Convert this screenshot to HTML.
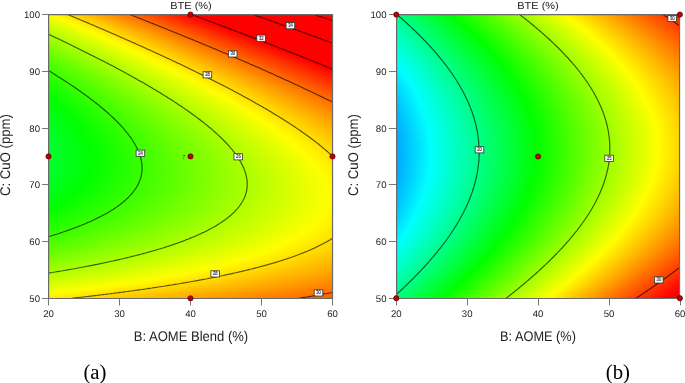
<!DOCTYPE html><html><head><meta charset="utf-8"><style>*{margin:0;padding:0}
html,body{width:685px;height:383px;background:#fff;overflow:hidden;position:relative}
.f{position:absolute}
.f i{display:block;height:1px}
.t{position:absolute;font-family:"Liberation Sans",sans-serif;color:#222;white-space:nowrap;line-height:1;text-rendering:geometricPrecision}
.s{position:absolute;font-family:"Liberation Serif",serif;color:#000;white-space:nowrap;line-height:1}
svg{position:absolute;left:0;top:0}
</style></head><body>
<div class="f" style="left:49px;top:15px;width:283px;height:283px">
<i style="background:linear-gradient(90deg,#f9ff00 0.5px,#fffe00 4.5px,#ff0000 142.5px,#ff0000 282.5px)"></i>
<i style="background:linear-gradient(90deg,#f4ff00 0.5px,#ffff00 6.5px,#ff0000 145.5px,#ff0000 282.5px)"></i>
<i style="background:linear-gradient(90deg,#f0ff00 0.5px,#fffd00 9.5px,#ff0000 147.5px,#ff0000 282.5px)"></i>
<i style="background:linear-gradient(90deg,#ecff00 0.5px,#fffe00 11.5px,#ff0000 150.5px,#ff0000 282.5px)"></i>
<i style="background:linear-gradient(90deg,#e8ff00 0.5px,#ffff00 13.5px,#ff0000 153.5px,#ff0000 282.5px)"></i>
<i style="background:linear-gradient(90deg,#e4ff00 0.5px,#fffd00 16.5px,#ff0000 155.5px,#ff0000 282.5px)"></i>
<i style="background:linear-gradient(90deg,#e0ff00 0.5px,#fffe00 18.5px,#ff0000 158.5px,#ff0000 282.5px)"></i>
<i style="background:linear-gradient(90deg,#dbff00 0.5px,#ffff00 20.5px,#ff0000 161.5px,#ff0000 282.5px)"></i>
<i style="background:linear-gradient(90deg,#d7ff00 0.5px,#ffff00 22.5px,#ff0000 163.5px,#ff0000 282.5px)"></i>
<i style="background:linear-gradient(90deg,#d3ff00 0.5px,#fffe00 25.5px,#ff0000 166.5px,#ff0000 282.5px)"></i>
<i style="background:linear-gradient(90deg,#cfff00 0.5px,#fffe00 27.5px,#ff0000 169.5px,#ff0000 282.5px)"></i>
<i style="background:linear-gradient(90deg,#cbff00 0.5px,#ffff00 29.5px,#ff0000 171.5px,#ff0000 282.5px)"></i>
<i style="background:linear-gradient(90deg,#c7ff00 0.5px,#fffe00 32.5px,#ff0000 174.5px,#ff0000 282.5px)"></i>
<i style="background:linear-gradient(90deg,#c3ff00 0.5px,#fffe00 34.5px,#ff0000 177.5px,#ff0000 282.5px)"></i>
<i style="background:linear-gradient(90deg,#c0ff00 0.5px,#ffff00 36.5px,#ff0000 179.5px,#ff0000 282.5px)"></i>
<i style="background:linear-gradient(90deg,#bcff00 0.5px,#fffe00 39.5px,#ff0000 182.5px,#ff0000 282.5px)"></i>
<i style="background:linear-gradient(90deg,#b8ff00 0.5px,#fffe00 41.5px,#ff0000 185.5px,#ff0000 282.5px)"></i>
<i style="background:linear-gradient(90deg,#b4ff00 0.5px,#fffe00 43.5px,#ff0000 187.5px,#ff0000 282.5px)"></i>
<i style="background:linear-gradient(90deg,#b0ff00 0.5px,#ffff00 45.5px,#ff0000 190.5px,#ff0000 282.5px)"></i>
<i style="background:linear-gradient(90deg,#adff00 0.5px,#fffe00 48.5px,#ff0000 192.5px,#ff0000 282.5px)"></i>
<i style="background:linear-gradient(90deg,#a9ff00 0.5px,#fffe00 50.5px,#ff0000 195.5px,#ff0000 282.5px)"></i>
<i style="background:linear-gradient(90deg,#a5ff00 0.5px,#fffe00 52.5px,#ff0000 198.5px,#ff0000 282.5px)"></i>
<i style="background:linear-gradient(90deg,#a2ff00 0.5px,#ffff00 54.5px,#ff0000 200.5px,#ff0000 282.5px)"></i>
<i style="background:linear-gradient(90deg,#9eff00 0.5px,#fffe00 57.5px,#ff0000 203.5px,#ff0000 282.5px)"></i>
<i style="background:linear-gradient(90deg,#9bff00 0.5px,#fffe00 59.5px,#ff0000 205.5px,#ff0000 282.5px)"></i>
<i style="background:linear-gradient(90deg,#97ff00 0.5px,#fffe00 61.5px,#ff0000 208.5px,#ff0000 282.5px)"></i>
<i style="background:linear-gradient(90deg,#93ff00 0.5px,#ffff00 63.5px,#ff0000 211.5px,#ff0000 282.5px)"></i>
<i style="background:linear-gradient(90deg,#90ff00 0.5px,#ffff00 65.5px,#ff0000 213.5px,#ff0000 282.5px)"></i>
<i style="background:linear-gradient(90deg,#8dff00 0.5px,#fffe00 68.5px,#ff0000 216.5px,#ff0000 282.5px)"></i>
<i style="background:linear-gradient(90deg,#89ff00 0.5px,#fffe00 70.5px,#ff0000 218.5px,#ff0000 282.5px)"></i>
<i style="background:linear-gradient(90deg,#86ff00 0.5px,#fffe00 72.5px,#ff0000 221.5px,#ff0000 282.5px)"></i>
<i style="background:linear-gradient(90deg,#82ff00 0.5px,#ffff00 74.5px,#ff0000 223.5px,#ff0000 282.5px)"></i>
<i style="background:linear-gradient(90deg,#7fff00 0.5px,#ffff00 76.5px,#ff0000 226.5px,#ff0000 282.5px)"></i>
<i style="background:linear-gradient(90deg,#7cff00 0.5px,#fffe00 79.5px,#ff0000 228.5px,#ff0000 282.5px)"></i>
<i style="background:linear-gradient(90deg,#79ff00 0.5px,#fffe00 81.5px,#ff0000 231.5px,#ff0000 282.5px)"></i>
<i style="background:linear-gradient(90deg,#75ff00 0.5px,#fffe00 83.5px,#ff0000 234.5px,#ff0000 282.5px)"></i>
<i style="background:linear-gradient(90deg,#72ff00 0.5px,#fffe00 85.5px,#ff0000 236.5px,#ff0000 282.5px)"></i>
<i style="background:linear-gradient(90deg,#6fff00 0.5px,#ffff00 87.5px,#ff0000 239.5px,#ff0000 282.5px)"></i>
<i style="background:linear-gradient(90deg,#6cff00 0.5px,#ffff00 89.5px,#ff0000 241.5px,#ff0000 282.5px)"></i>
<i style="background:linear-gradient(90deg,#69ff00 0.5px,#ffff00 91.5px,#ff0000 244.5px,#ff0000 282.5px)"></i>
<i style="background:linear-gradient(90deg,#66ff00 0.5px,#ffff00 93.5px,#ff0000 246.5px,#ff0000 282.5px)"></i>
<i style="background:linear-gradient(90deg,#63ff00 0.5px,#fffe00 96.5px,#ff0000 249.5px,#ff0000 282.5px)"></i>
<i style="background:linear-gradient(90deg,#60ff00 0.5px,#fffe00 98.5px,#ff0000 251.5px,#ff0000 282.5px)"></i>
<i style="background:linear-gradient(90deg,#5dff00 0.5px,#fffe00 100.5px,#ff0000 254.5px,#ff0000 282.5px)"></i>
<i style="background:linear-gradient(90deg,#5aff00 0.5px,#fffe00 102.5px,#ff0000 256.5px,#ff0000 282.5px)"></i>
<i style="background:linear-gradient(90deg,#57ff00 0.5px,#fffe00 104.5px,#ff0000 259.5px,#ff0000 282.5px)"></i>
<i style="background:linear-gradient(90deg,#54ff00 0.5px,#fffe00 106.5px,#ff0000 261.5px,#ff0000 282.5px)"></i>
<i style="background:linear-gradient(90deg,#51ff00 0.5px,#ffff00 108.5px,#ff0000 264.5px,#ff0000 282.5px)"></i>
<i style="background:linear-gradient(90deg,#4eff00 0.5px,#ffff00 110.5px,#ff0000 266.5px,#ff0000 282.5px)"></i>
<i style="background:linear-gradient(90deg,#4bff00 0.5px,#ffff00 112.5px,#ff0000 269.5px,#ff0000 282.5px)"></i>
<i style="background:linear-gradient(90deg,#49ff00 0.5px,#ffff00 114.5px,#ff0000 271.5px,#ff0000 282.5px)"></i>
<i style="background:linear-gradient(90deg,#46ff00 0.5px,#ffff00 116.5px,#ff0000 274.5px,#ff0000 282.5px)"></i>
<i style="background:linear-gradient(90deg,#43ff00 0.5px,#ffff00 118.5px,#ff0000 276.5px,#ff0000 282.5px)"></i>
<i style="background:linear-gradient(90deg,#41ff00 0.5px,#ffff00 120.5px,#ff0000 278.5px,#ff0000 282.5px)"></i>
<i style="background:linear-gradient(90deg,#3eff00 0.5px,#ffff00 122.5px,#ff0000 281.5px,#ff0000 282.5px)"></i>
<i style="background:linear-gradient(90deg,#3bff00 0.5px,#ffff00 124.5px,#ff0100 282.5px)"></i>
<i style="background:linear-gradient(90deg,#39ff00 0.5px,#ffff00 126.5px,#ff0500 282.5px)"></i>
<i style="background:linear-gradient(90deg,#36ff00 0.5px,#ffff00 128.5px,#ff0900 282.5px)"></i>
<i style="background:linear-gradient(90deg,#34ff00 0.5px,#ffff00 130.5px,#ff0d00 282.5px)"></i>
<i style="background:linear-gradient(90deg,#31ff00 0.5px,#ffff00 132.5px,#ff1100 282.5px)"></i>
<i style="background:linear-gradient(90deg,#2fff00 0.5px,#ffff00 134.5px,#ff1500 282.5px)"></i>
<i style="background:linear-gradient(90deg,#2cff00 0.5px,#ffff00 136.5px,#ff1800 282.5px)"></i>
<i style="background:linear-gradient(90deg,#2aff00 0.5px,#ffff00 138.5px,#ff1c00 282.5px)"></i>
<i style="background:linear-gradient(90deg,#28ff00 0.5px,#ffff00 140.5px,#ff2000 282.5px)"></i>
<i style="background:linear-gradient(90deg,#25ff00 0.5px,#fffe00 142.5px,#ff2400 282.5px)"></i>
<i style="background:linear-gradient(90deg,#23ff00 0.5px,#fffe00 144.5px,#ff2700 282.5px)"></i>
<i style="background:linear-gradient(90deg,#21ff00 0.5px,#fffe00 146.5px,#ff2b00 282.5px)"></i>
<i style="background:linear-gradient(90deg,#1eff00 0.5px,#fffe00 148.5px,#ff2e00 282.5px)"></i>
<i style="background:linear-gradient(90deg,#1cff00 0.5px,#fffe00 150.5px,#ff3200 282.5px)"></i>
<i style="background:linear-gradient(90deg,#1aff00 0.5px,#fffe00 152.5px,#ff3600 282.5px)"></i>
<i style="background:linear-gradient(90deg,#18ff00 0.5px,#fffe00 154.5px,#ff3900 282.5px)"></i>
<i style="background:linear-gradient(90deg,#16ff00 0.5px,#ffff00 155.5px,#ff3c00 282.5px)"></i>
<i style="background:linear-gradient(90deg,#14ff00 0.5px,#ffff00 157.5px,#ff4000 282.5px)"></i>
<i style="background:linear-gradient(90deg,#12ff00 0.5px,#fffe00 159.5px,#ff4300 282.5px)"></i>
<i style="background:linear-gradient(90deg,#10ff00 0.5px,#fffe00 161.5px,#ff4700 282.5px)"></i>
<i style="background:linear-gradient(90deg,#0eff00 0.5px,#fffe00 163.5px,#ff4a00 282.5px)"></i>
<i style="background:linear-gradient(90deg,#0cff00 0.5px,#fffe00 165.5px,#ff4d00 282.5px)"></i>
<i style="background:linear-gradient(90deg,#0aff00 0.5px,#ffff00 166.5px,#ff5100 282.5px)"></i>
<i style="background:linear-gradient(90deg,#08ff00 0.5px,#ffff00 168.5px,#ff5400 282.5px)"></i>
<i style="background:linear-gradient(90deg,#06ff00 0.5px,#fffe00 170.5px,#ff5700 282.5px)"></i>
<i style="background:linear-gradient(90deg,#04ff00 0.5px,#fffe00 172.5px,#ff5a00 282.5px)"></i>
<i style="background:linear-gradient(90deg,#02ff00 0.5px,#fffe00 174.5px,#ff5d00 282.5px)"></i>
<i style="background:linear-gradient(90deg,#01ff00 0.5px,#ffff00 175.5px,#ff6000 282.5px)"></i>
<i style="background:linear-gradient(90deg,#00ff01 0.5px,#fffe00 177.5px,#ff6300 282.5px)"></i>
<i style="background:linear-gradient(90deg,#00ff03 0.5px,#03ff00 4.5px,#fffe00 179.5px,#ff6700 282.5px)"></i>
<i style="background:linear-gradient(90deg,#00ff04 0.5px,#01ff00 4.5px,#fffe00 181.5px,#ff6a00 282.5px)"></i>
<i style="background:linear-gradient(90deg,#00ff06 0.5px,#01ff00 5.5px,#ffff00 182.5px,#ff6d00 282.5px)"></i>
<i style="background:linear-gradient(90deg,#00ff08 0.5px,#01ff00 6.5px,#fffe00 184.5px,#ff6f00 282.5px)"></i>
<i style="background:linear-gradient(90deg,#00ff09 0.5px,#01ff00 7.5px,#fffe00 186.5px,#ff7200 282.5px)"></i>
<i style="background:linear-gradient(90deg,#00ff0b 0.5px,#02ff00 9.5px,#ffff00 187.5px,#ff7500 282.5px)"></i>
<i style="background:linear-gradient(90deg,#00ff0c 0.5px,#02ff00 10.5px,#fffe00 189.5px,#ff7800 282.5px)"></i>
<i style="background:linear-gradient(90deg,#00ff0e 0.5px,#02ff00 11.5px,#fffe00 191.5px,#ff7b00 282.5px)"></i>
<i style="background:linear-gradient(90deg,#00ff0f 0.5px,#01ff00 12.5px,#ffff00 192.5px,#ff7e00 282.5px)"></i>
<i style="background:linear-gradient(90deg,#00ff11 0.5px,#01ff00 13.5px,#fffe00 194.5px,#ff8100 282.5px)"></i>
<i style="background:linear-gradient(90deg,#00ff12 0.5px,#01ff00 14.5px,#fffe00 196.5px,#ff8300 282.5px)"></i>
<i style="background:linear-gradient(90deg,#00ff13 0.5px,#01ff00 15.5px,#ffff00 197.5px,#ff8600 282.5px)"></i>
<i style="background:linear-gradient(90deg,#00ff15 0.5px,#01ff00 16.5px,#fffe00 199.5px,#ff8900 282.5px)"></i>
<i style="background:linear-gradient(90deg,#00ff16 0.5px,#01ff00 17.5px,#fffe00 201.5px,#ff8b00 282.5px)"></i>
<i style="background:linear-gradient(90deg,#00ff17 0.5px,#01ff00 18.5px,#fffe00 202.5px,#ff8e00 282.5px)"></i>
<i style="background:linear-gradient(90deg,#00ff19 0.5px,#01ff00 19.5px,#fffe00 204.5px,#ff9100 282.5px)"></i>
<i style="background:linear-gradient(90deg,#00ff1a 0.5px,#01ff00 20.5px,#ffff00 205.5px,#ff9300 282.5px)"></i>
<i style="background:linear-gradient(90deg,#00ff1b 0.5px,#01ff00 21.5px,#fffe00 207.5px,#ff9600 282.5px)"></i>
<i style="background:linear-gradient(90deg,#00ff1c 0.5px,#01ff00 22.5px,#ffff00 208.5px,#ff9800 282.5px)"></i>
<i style="background:linear-gradient(90deg,#00ff1d 0.5px,#02ff00 23.5px,#fffe00 210.5px,#ff9b00 282.5px)"></i>
<i style="background:linear-gradient(90deg,#00ff1e 0.5px,#00ff00 23.5px,#fffe00 212.5px,#ff9d00 282.5px)"></i>
<i style="background:linear-gradient(90deg,#00ff1f 0.5px,#01ff00 24.5px,#fffe00 213.5px,#ff9f00 282.5px)"></i>
<i style="background:linear-gradient(90deg,#00ff20 0.5px,#01ff00 25.5px,#fffe00 215.5px,#ffa200 282.5px)"></i>
<i style="background:linear-gradient(90deg,#00ff21 0.5px,#01ff00 26.5px,#fffe00 216.5px,#ffa400 282.5px)"></i>
<i style="background:linear-gradient(90deg,#00ff22 0.5px,#01ff00 27.5px,#ffff00 217.5px,#ffa600 282.5px)"></i>
<i style="background:linear-gradient(90deg,#00ff23 0.5px,#01ff00 28.5px,#fffe00 219.5px,#ffa900 282.5px)"></i>
<i style="background:linear-gradient(90deg,#00ff24 0.5px,#00ff00 28.5px,#ffff00 220.5px,#ffab00 282.5px)"></i>
<i style="background:linear-gradient(90deg,#00ff25 0.5px,#01ff00 29.5px,#fffe00 222.5px,#ffad00 282.5px)"></i>
<i style="background:linear-gradient(90deg,#00ff26 0.5px,#01ff00 30.5px,#fffe00 223.5px,#ffaf00 282.5px)"></i>
<i style="background:linear-gradient(90deg,#00ff27 0.5px,#01ff00 31.5px,#fffe00 225.5px,#ffb100 282.5px)"></i>
<i style="background:linear-gradient(90deg,#00ff27 0.5px,#01ff00 31.5px,#fffe00 226.5px,#ffb400 282.5px)"></i>
<i style="background:linear-gradient(90deg,#00ff28 0.5px,#01ff00 32.5px,#ffff00 227.5px,#ffb600 282.5px)"></i>
<i style="background:linear-gradient(90deg,#00ff29 0.5px,#01ff00 33.5px,#fffe00 229.5px,#ffb800 282.5px)"></i>
<i style="background:linear-gradient(90deg,#00ff2a 0.5px,#01ff00 33.5px,#fffe00 230.5px,#ffba00 282.5px)"></i>
<i style="background:linear-gradient(90deg,#00ff2a 0.5px,#01ff00 34.5px,#ffff00 231.5px,#ffbc00 282.5px)"></i>
<i style="background:linear-gradient(90deg,#00ff2b 0.5px,#01ff00 35.5px,#fffe00 233.5px,#ffbe00 282.5px)"></i>
<i style="background:linear-gradient(90deg,#00ff2b 0.5px,#01ff00 35.5px,#fffe00 234.5px,#ffc000 282.5px)"></i>
<i style="background:linear-gradient(90deg,#00ff2c 0.5px,#01ff00 36.5px,#ffff00 235.5px,#ffc200 282.5px)"></i>
<i style="background:linear-gradient(90deg,#00ff2c 0.5px,#01ff00 36.5px,#fffe00 237.5px,#ffc300 282.5px)"></i>
<i style="background:linear-gradient(90deg,#00ff2d 0.5px,#01ff00 37.5px,#fffe00 238.5px,#ffc500 282.5px)"></i>
<i style="background:linear-gradient(90deg,#00ff2d 0.5px,#01ff00 37.5px,#fffe00 239.5px,#ffc700 282.5px)"></i>
<i style="background:linear-gradient(90deg,#00ff2e 0.5px,#01ff00 38.5px,#ffff00 240.5px,#ffc900 282.5px)"></i>
<i style="background:linear-gradient(90deg,#00ff2e 0.5px,#01ff00 38.5px,#fffe00 242.5px,#ffcb00 282.5px)"></i>
<i style="background:linear-gradient(90deg,#00ff2f 0.5px,#01ff00 39.5px,#fffe00 243.5px,#ffcc00 282.5px)"></i>
<i style="background:linear-gradient(90deg,#00ff2f 0.5px,#01ff00 39.5px,#fffe00 244.5px,#ffce00 282.5px)"></i>
<i style="background:linear-gradient(90deg,#00ff2f 0.5px,#01ff00 40.5px,#fffe00 245.5px,#ffd000 282.5px)"></i>
<i style="background:linear-gradient(90deg,#00ff30 0.5px,#01ff00 40.5px,#ffff00 246.5px,#ffd100 282.5px)"></i>
<i style="background:linear-gradient(90deg,#00ff30 0.5px,#01ff00 40.5px,#ffff00 247.5px,#ffd300 282.5px)"></i>
<i style="background:linear-gradient(90deg,#00ff30 0.5px,#01ff00 41.5px,#fffe00 249.5px,#ffd400 282.5px)"></i>
<i style="background:linear-gradient(90deg,#00ff30 0.5px,#01ff00 41.5px,#fffe00 250.5px,#ffd600 282.5px)"></i>
<i style="background:linear-gradient(90deg,#00ff30 0.5px,#01ff00 41.5px,#fffe00 251.5px,#ffd700 282.5px)"></i>
<i style="background:linear-gradient(90deg,#00ff30 0.5px,#02ff00 42.5px,#fffe00 252.5px,#ffd900 282.5px)"></i>
<i style="background:linear-gradient(90deg,#00ff31 0.5px,#01ff00 42.5px,#fffe00 253.5px,#ffda00 282.5px)"></i>
<i style="background:linear-gradient(90deg,#00ff31 0.5px,#01ff00 42.5px,#fffe00 254.5px,#ffdc00 282.5px)"></i>
<i style="background:linear-gradient(90deg,#00ff31 0.5px,#01ff00 42.5px,#fffe00 255.5px,#ffdd00 282.5px)"></i>
<i style="background:linear-gradient(90deg,#00ff31 0.5px,#01ff00 42.5px,#fffe00 256.5px,#ffde00 282.5px)"></i>
<i style="background:linear-gradient(90deg,#00ff31 0.5px,#02ff00 43.5px,#fffe00 257.5px,#ffe000 282.5px)"></i>
<i style="background:linear-gradient(90deg,#00ff31 0.5px,#01ff00 43.5px,#fffe00 258.5px,#ffe100 282.5px)"></i>
<i style="background:linear-gradient(90deg,#00ff30 0.5px,#01ff00 43.5px,#fffe00 259.5px,#ffe200 282.5px)"></i>
<i style="background:linear-gradient(90deg,#00ff30 0.5px,#01ff00 43.5px,#fffe00 260.5px,#ffe300 282.5px)"></i>
<i style="background:linear-gradient(90deg,#00ff30 0.5px,#01ff00 43.5px,#fffe00 261.5px,#ffe500 282.5px)"></i>
<i style="background:linear-gradient(90deg,#00ff30 0.5px,#01ff00 43.5px,#fffe00 262.5px,#ffe600 282.5px)"></i>
<i style="background:linear-gradient(90deg,#00ff30 0.5px,#01ff00 43.5px,#ffff00 262.5px,#ffe700 282.5px)"></i>
<i style="background:linear-gradient(90deg,#00ff2f 0.5px,#01ff00 43.5px,#fffe00 263.5px,#ffe800 282.5px)"></i>
<i style="background:linear-gradient(90deg,#00ff2f 0.5px,#01ff00 43.5px,#fffe00 264.5px,#ffe900 282.5px)"></i>
<i style="background:linear-gradient(90deg,#00ff2f 0.5px,#01ff00 43.5px,#fffe00 265.5px,#ffea00 282.5px)"></i>
<i style="background:linear-gradient(90deg,#00ff2e 0.5px,#02ff00 43.5px,#fffe00 266.5px,#ffeb00 282.5px)"></i>
<i style="background:linear-gradient(90deg,#00ff2e 0.5px,#01ff00 42.5px,#ffff00 266.5px,#ffec00 282.5px)"></i>
<i style="background:linear-gradient(90deg,#00ff2e 0.5px,#01ff00 42.5px,#fffe00 267.5px,#ffed00 282.5px)"></i>
<i style="background:linear-gradient(90deg,#00ff2d 0.5px,#01ff00 42.5px,#fffe00 268.5px,#ffee00 282.5px)"></i>
<i style="background:linear-gradient(90deg,#00ff2d 0.5px,#01ff00 42.5px,#fffe00 269.5px,#ffef00 282.5px)"></i>
<i style="background:linear-gradient(90deg,#00ff2c 0.5px,#01ff00 41.5px,#fffe00 269.5px,#fff000 282.5px)"></i>
<i style="background:linear-gradient(90deg,#00ff2c 0.5px,#01ff00 41.5px,#fffe00 270.5px,#fff000 282.5px)"></i>
<i style="background:linear-gradient(90deg,#00ff2b 0.5px,#01ff00 41.5px,#fffe00 271.5px,#fff100 282.5px)"></i>
<i style="background:linear-gradient(90deg,#00ff2b 0.5px,#01ff00 40.5px,#fffe00 271.5px,#fff200 282.5px)"></i>
<i style="background:linear-gradient(90deg,#00ff2a 0.5px,#01ff00 40.5px,#fffe00 272.5px,#fff300 282.5px)"></i>
<i style="background:linear-gradient(90deg,#00ff29 0.5px,#01ff00 40.5px,#ffff00 272.5px,#fff300 282.5px)"></i>
<i style="background:linear-gradient(90deg,#00ff29 0.5px,#01ff00 39.5px,#fffe00 273.5px,#fff400 282.5px)"></i>
<i style="background:linear-gradient(90deg,#00ff28 0.5px,#01ff00 39.5px,#fffe00 274.5px,#fff500 282.5px)"></i>
<i style="background:linear-gradient(90deg,#00ff27 0.5px,#01ff00 38.5px,#fffe00 274.5px,#fff500 282.5px)"></i>
<i style="background:linear-gradient(90deg,#00ff26 0.5px,#02ff00 38.5px,#fffe00 275.5px,#fff600 282.5px)"></i>
<i style="background:linear-gradient(90deg,#00ff26 0.5px,#01ff00 37.5px,#fffe00 275.5px,#fff600 282.5px)"></i>
<i style="background:linear-gradient(90deg,#00ff25 0.5px,#01ff00 36.5px,#fffe00 275.5px,#fff700 282.5px)"></i>
<i style="background:linear-gradient(90deg,#00ff24 0.5px,#01ff00 36.5px,#fffe00 276.5px,#fff700 282.5px)"></i>
<i style="background:linear-gradient(90deg,#00ff23 0.5px,#01ff00 35.5px,#fffe00 276.5px,#fff800 282.5px)"></i>
<i style="background:linear-gradient(90deg,#00ff22 0.5px,#01ff00 34.5px,#fffe00 277.5px,#fff800 282.5px)"></i>
<i style="background:linear-gradient(90deg,#00ff21 0.5px,#01ff00 33.5px,#fffe00 277.5px,#fff900 282.5px)"></i>
<i style="background:linear-gradient(90deg,#00ff20 0.5px,#02ff00 33.5px,#fffe00 277.5px,#fff900 282.5px)"></i>
<i style="background:linear-gradient(90deg,#00ff1f 0.5px,#01ff00 32.5px,#ffff00 277.5px,#fff900 282.5px)"></i>
<i style="background:linear-gradient(90deg,#00ff1e 0.5px,#01ff00 31.5px,#fffe00 278.5px,#fffa00 282.5px)"></i>
<i style="background:linear-gradient(90deg,#00ff1d 0.5px,#01ff00 30.5px,#fffe00 278.5px,#fffa00 282.5px)"></i>
<i style="background:linear-gradient(90deg,#00ff1c 0.5px,#01ff00 29.5px,#fffe00 278.5px,#fffa00 282.5px)"></i>
<i style="background:linear-gradient(90deg,#00ff1b 0.5px,#01ff00 28.5px,#fffe00 278.5px,#fffa00 282.5px)"></i>
<i style="background:linear-gradient(90deg,#00ff19 0.5px,#01ff00 27.5px,#fffe00 278.5px,#fffa00 282.5px)"></i>
<i style="background:linear-gradient(90deg,#00ff18 0.5px,#01ff00 26.5px,#fffe00 279.5px,#fffa00 282.5px)"></i>
<i style="background:linear-gradient(90deg,#00ff17 0.5px,#02ff00 25.5px,#fffe00 279.5px,#fffb00 282.5px)"></i>
<i style="background:linear-gradient(90deg,#00ff16 0.5px,#01ff00 23.5px,#fffe00 279.5px,#fffb00 282.5px)"></i>
<i style="background:linear-gradient(90deg,#00ff14 0.5px,#01ff00 22.5px,#fffe00 279.5px,#fffb00 282.5px)"></i>
<i style="background:linear-gradient(90deg,#00ff13 0.5px,#01ff00 21.5px,#fffe00 279.5px,#fffb00 282.5px)"></i>
<i style="background:linear-gradient(90deg,#00ff12 0.5px,#02ff00 20.5px,#fdff00 276.5px,#fffb00 282.5px)"></i>
<i style="background:linear-gradient(90deg,#00ff10 0.5px,#01ff00 18.5px,#fbff00 274.5px,#fffd00 280.5px,#fffb00 282.5px)"></i>
<i style="background:linear-gradient(90deg,#00ff0f 0.5px,#01ff00 17.5px,#fbff00 273.5px,#fffc00 280.5px,#fffa00 282.5px)"></i>
<i style="background:linear-gradient(90deg,#00ff0d 0.5px,#01ff00 15.5px,#f9ff00 271.5px,#fffd00 279.5px,#fffa00 282.5px)"></i>
<i style="background:linear-gradient(90deg,#00ff0c 0.5px,#01ff00 14.5px,#f8ff00 270.5px,#fffd00 279.5px,#fffa00 282.5px)"></i>
<i style="background:linear-gradient(90deg,#00ff0a 0.5px,#01ff00 12.5px,#f6ff00 268.5px,#fffe00 278.5px,#fffa00 282.5px)"></i>
<i style="background:linear-gradient(90deg,#00ff09 0.5px,#02ff00 11.5px,#f6ff00 267.5px,#fffe00 278.5px,#fffa00 282.5px)"></i>
<i style="background:linear-gradient(90deg,#00ff07 0.5px,#01ff00 9.5px,#f4ff00 265.5px,#fffd00 278.5px,#fffa00 282.5px)"></i>
<i style="background:linear-gradient(90deg,#00ff05 0.5px,#02ff00 8.5px,#f3ff00 264.5px,#fffe00 277.5px,#fff900 282.5px)"></i>
<i style="background:linear-gradient(90deg,#00ff04 0.5px,#03ff00 7.5px,#f3ff00 263.5px,#fffe00 277.5px,#fff900 282.5px)"></i>
<i style="background:linear-gradient(90deg,#00ff02 0.5px,#07ff00 10.5px,#f6ff00 266.5px,#fffd00 277.5px,#fff900 282.5px)"></i>
<i style="background:linear-gradient(90deg,#00ff00 0.5px,#dbff00 237.5px,#fffe00 276.5px,#fff800 282.5px)"></i>
<i style="background:linear-gradient(90deg,#01ff00 0.5px,#edff00 256.5px,#fffe00 276.5px,#fff800 282.5px)"></i>
<i style="background:linear-gradient(90deg,#03ff00 0.5px,#eeff00 256.5px,#fffe00 275.5px,#fff700 282.5px)"></i>
<i style="background:linear-gradient(90deg,#05ff00 0.5px,#efff00 256.5px,#fffe00 275.5px,#fff700 282.5px)"></i>
<i style="background:linear-gradient(90deg,#07ff00 0.5px,#efff00 256.5px,#fffe00 274.5px,#fff600 282.5px)"></i>
<i style="background:linear-gradient(90deg,#09ff00 0.5px,#f0ff00 256.5px,#fffd00 274.5px,#fff600 282.5px)"></i>
<i style="background:linear-gradient(90deg,#0bff00 0.5px,#f1ff00 256.5px,#fffe00 273.5px,#fff500 282.5px)"></i>
<i style="background:linear-gradient(90deg,#0cff00 0.5px,#f1ff00 256.5px,#fffe00 272.5px,#fff500 282.5px)"></i>
<i style="background:linear-gradient(90deg,#0eff00 0.5px,#f2ff00 256.5px,#fffd00 272.5px,#fff400 282.5px)"></i>
<i style="background:linear-gradient(90deg,#10ff00 0.5px,#f3ff00 256.5px,#fffe00 271.5px,#fff400 282.5px)"></i>
<i style="background:linear-gradient(90deg,#12ff00 0.5px,#f4ff00 256.5px,#fffe00 270.5px,#fff300 282.5px)"></i>
<i style="background:linear-gradient(90deg,#15ff00 0.5px,#f4ff00 256.5px,#fffe00 269.5px,#fff200 282.5px)"></i>
<i style="background:linear-gradient(90deg,#17ff00 0.5px,#f5ff00 256.5px,#fffd00 269.5px,#fff100 282.5px)"></i>
<i style="background:linear-gradient(90deg,#19ff00 0.5px,#f6ff00 256.5px,#fffd00 268.5px,#fff100 282.5px)"></i>
<i style="background:linear-gradient(90deg,#1bff00 0.5px,#f7ff00 256.5px,#fffd00 267.5px,#fff000 282.5px)"></i>
<i style="background:linear-gradient(90deg,#1dff00 0.5px,#f8ff00 256.5px,#fffd00 266.5px,#ffef00 282.5px)"></i>
<i style="background:linear-gradient(90deg,#1fff00 0.5px,#f9ff00 256.5px,#fffd00 265.5px,#ffee00 282.5px)"></i>
<i style="background:linear-gradient(90deg,#22ff00 0.5px,#faff00 256.5px,#fffd00 264.5px,#ffed00 282.5px)"></i>
<i style="background:linear-gradient(90deg,#24ff00 0.5px,#fbff00 256.5px,#fffd00 263.5px,#ffec00 282.5px)"></i>
<i style="background:linear-gradient(90deg,#26ff00 0.5px,#fcff00 256.5px,#fffc00 263.5px,#ffeb00 282.5px)"></i>
<i style="background:linear-gradient(90deg,#28ff00 0.5px,#fdff00 256.5px,#fff000 276.5px,#ffea00 282.5px)"></i>
<i style="background:linear-gradient(90deg,#2bff00 0.5px,#fffe00 258.5px,#ffe900 282.5px)"></i>
<i style="background:linear-gradient(90deg,#2dff00 0.5px,#fffd00 257.5px,#ffe800 282.5px)"></i>
<i style="background:linear-gradient(90deg,#30ff00 0.5px,#fffe00 255.5px,#ffe700 282.5px)"></i>
<i style="background:linear-gradient(90deg,#32ff00 0.5px,#fffe00 254.5px,#ffe600 282.5px)"></i>
<i style="background:linear-gradient(90deg,#35ff00 0.5px,#fffe00 252.5px,#ffe500 282.5px)"></i>
<i style="background:linear-gradient(90deg,#37ff00 0.5px,#fffe00 250.5px,#ffe400 282.5px)"></i>
<i style="background:linear-gradient(90deg,#3aff00 0.5px,#fffe00 249.5px,#ffe300 282.5px)"></i>
<i style="background:linear-gradient(90deg,#3cff00 0.5px,#fffe00 247.5px,#ffe100 282.5px)"></i>
<i style="background:linear-gradient(90deg,#3fff00 0.5px,#fffe00 245.5px,#ffe000 282.5px)"></i>
<i style="background:linear-gradient(90deg,#42ff00 0.5px,#fffe00 243.5px,#ffdf00 282.5px)"></i>
<i style="background:linear-gradient(90deg,#44ff00 0.5px,#fffe00 242.5px,#ffdd00 282.5px)"></i>
<i style="background:linear-gradient(90deg,#47ff00 0.5px,#fffe00 240.5px,#ffdc00 282.5px)"></i>
<i style="background:linear-gradient(90deg,#4aff00 0.5px,#fffe00 238.5px,#ffdb00 282.5px)"></i>
<i style="background:linear-gradient(90deg,#4cff00 0.5px,#fffe00 236.5px,#ffd900 282.5px)"></i>
<i style="background:linear-gradient(90deg,#4fff00 0.5px,#fffe00 233.5px,#ffd800 282.5px)"></i>
<i style="background:linear-gradient(90deg,#52ff00 0.5px,#fffe00 231.5px,#ffd600 282.5px)"></i>
<i style="background:linear-gradient(90deg,#55ff00 0.5px,#fffe00 229.5px,#ffd500 282.5px)"></i>
<i style="background:linear-gradient(90deg,#58ff00 0.5px,#fffd00 227.5px,#ffd300 282.5px)"></i>
<i style="background:linear-gradient(90deg,#5bff00 0.5px,#fffe00 224.5px,#ffd200 282.5px)"></i>
<i style="background:linear-gradient(90deg,#5eff00 0.5px,#fffe00 222.5px,#ffd000 282.5px)"></i>
<i style="background:linear-gradient(90deg,#61ff00 0.5px,#fffe00 219.5px,#ffce00 282.5px)"></i>
<i style="background:linear-gradient(90deg,#64ff00 0.5px,#fffe00 216.5px,#ffcd00 282.5px)"></i>
<i style="background:linear-gradient(90deg,#67ff00 0.5px,#fffe00 214.5px,#ffcb00 282.5px)"></i>
<i style="background:linear-gradient(90deg,#6aff00 0.5px,#fffe00 211.5px,#ffc900 282.5px)"></i>
<i style="background:linear-gradient(90deg,#6dff00 0.5px,#fffe00 208.5px,#ffc700 282.5px)"></i>
<i style="background:linear-gradient(90deg,#70ff00 0.5px,#fffe00 205.5px,#ffc600 282.5px)"></i>
<i style="background:linear-gradient(90deg,#73ff00 0.5px,#fffe00 202.5px,#ffc400 282.5px)"></i>
<i style="background:linear-gradient(90deg,#76ff00 0.5px,#fffe00 199.5px,#ffc200 282.5px)"></i>
<i style="background:linear-gradient(90deg,#7aff00 0.5px,#fffe00 195.5px,#ffc000 282.5px)"></i>
<i style="background:linear-gradient(90deg,#7dff00 0.5px,#fffe00 192.5px,#ffbe00 282.5px)"></i>
<i style="background:linear-gradient(90deg,#80ff00 0.5px,#fffe00 189.5px,#ffbc00 282.5px)"></i>
<i style="background:linear-gradient(90deg,#84ff00 0.5px,#fffe00 185.5px,#ffba00 282.5px)"></i>
<i style="background:linear-gradient(90deg,#87ff00 0.5px,#fffe00 182.5px,#ffb800 282.5px)"></i>
<i style="background:linear-gradient(90deg,#8aff00 0.5px,#fffe00 178.5px,#ffb600 282.5px)"></i>
<i style="background:linear-gradient(90deg,#8eff00 0.5px,#fffe00 174.5px,#ffb400 282.5px)"></i>
<i style="background:linear-gradient(90deg,#91ff00 0.5px,#fffe00 170.5px,#ffb200 282.5px)"></i>
<i style="background:linear-gradient(90deg,#95ff00 0.5px,#fffe00 166.5px,#ffb000 282.5px)"></i>
<i style="background:linear-gradient(90deg,#98ff00 0.5px,#fffe00 162.5px,#ffae00 282.5px)"></i>
<i style="background:linear-gradient(90deg,#9cff00 0.5px,#fffe00 158.5px,#ffab00 282.5px)"></i>
<i style="background:linear-gradient(90deg,#9fff00 0.5px,#fffe00 153.5px,#ffa900 282.5px)"></i>
<i style="background:linear-gradient(90deg,#a3ff00 0.5px,#fffe00 149.5px,#ffa700 282.5px)"></i>
<i style="background:linear-gradient(90deg,#a7ff00 0.5px,#fffe00 144.5px,#ffa500 282.5px)"></i>
<i style="background:linear-gradient(90deg,#aaff00 0.5px,#fffe00 139.5px,#ffa200 282.5px)"></i>
<i style="background:linear-gradient(90deg,#aeff00 0.5px,#fffe00 135.5px,#ffa000 282.5px)"></i>
<i style="background:linear-gradient(90deg,#b2ff00 0.5px,#fffe00 130.5px,#ff9e00 282.5px)"></i>
<i style="background:linear-gradient(90deg,#b6ff00 0.5px,#fffe00 124.5px,#ff9b00 282.5px)"></i>
<i style="background:linear-gradient(90deg,#b9ff00 0.5px,#fffe00 119.5px,#ff9900 282.5px)"></i>
<i style="background:linear-gradient(90deg,#bdff00 0.5px,#fffe00 114.5px,#ff9600 282.5px)"></i>
<i style="background:linear-gradient(90deg,#c1ff00 0.5px,#fffe00 108.5px,#ff9400 282.5px)"></i>
<i style="background:linear-gradient(90deg,#c5ff00 0.5px,#fffe00 102.5px,#ff9100 282.5px)"></i>
<i style="background:linear-gradient(90deg,#c9ff00 0.5px,#fffd00 97.5px,#ff8f00 282.5px)"></i>
<i style="background:linear-gradient(90deg,#cdff00 0.5px,#fffd00 91.5px,#ff8c00 282.5px)"></i>
<i style="background:linear-gradient(90deg,#d1ff00 0.5px,#fffe00 84.5px,#ff8900 282.5px)"></i>
<i style="background:linear-gradient(90deg,#d5ff00 0.5px,#fffe00 78.5px,#ff8700 282.5px)"></i>
<i style="background:linear-gradient(90deg,#d9ff00 0.5px,#fffe00 71.5px,#ff8400 282.5px)"></i>
<i style="background:linear-gradient(90deg,#ddff00 0.5px,#fffe00 65.5px,#ff8100 282.5px)"></i>
<i style="background:linear-gradient(90deg,#e1ff00 0.5px,#fffe00 58.5px,#ff7e00 282.5px)"></i>
<i style="background:linear-gradient(90deg,#e5ff00 0.5px,#fffd00 51.5px,#ff7c00 282.5px)"></i>
<i style="background:linear-gradient(90deg,#e9ff00 0.5px,#fffe00 43.5px,#ff7900 282.5px)"></i>
<i style="background:linear-gradient(90deg,#eeff00 0.5px,#fffe00 36.5px,#ff7600 282.5px)"></i>
<i style="background:linear-gradient(90deg,#f2ff00 0.5px,#fffe00 28.5px,#ff7300 282.5px)"></i>
<i style="background:linear-gradient(90deg,#f6ff00 0.5px,#fffe00 20.5px,#ff7400 276.5px,#ff7000 282.5px)"></i>
<i style="background:linear-gradient(90deg,#faff00 0.5px,#fffd00 13.5px,#ff7500 269.5px,#ff6d00 282.5px)"></i>
<i style="background:linear-gradient(90deg,#ffff00 0.5px,#ff8000 242.5px,#ff6a00 282.5px)"></i>
<i style="background:linear-gradient(90deg,#fffb00 0.5px,#ff7500 256.5px,#ff6700 282.5px)"></i>
<i style="background:linear-gradient(90deg,#fff700 0.5px,#ff7200 256.5px,#ff6400 282.5px)"></i>
<i style="background:linear-gradient(90deg,#fff200 0.5px,#ff6f00 256.5px,#ff6100 282.5px)"></i>
<i style="background:linear-gradient(90deg,#ffee00 0.5px,#ff6c00 256.5px,#ff5e00 282.5px)"></i>
</div>
<div class="f" style="left:397px;top:15px;width:282px;height:283px">
<i style="background:linear-gradient(90deg,#00ff88 0.5px,#00ff00 55.5px,#a2ff00 125.5px,#ffff00 168.5px,#ff7500 236.5px,#ff2100 281.5px)"></i>
<i style="background:linear-gradient(90deg,#00ff8b 0.5px,#00ff01 56.5px,#acff00 131.5px,#fffe00 170.5px,#ff7600 237.5px,#ff2400 281.5px)"></i>
<i style="background:linear-gradient(90deg,#00ff8e 0.5px,#00ff01 57.5px,#b4ff00 136.5px,#fffe00 171.5px,#ff7700 238.5px,#ff2600 281.5px)"></i>
<i style="background:linear-gradient(90deg,#00ff91 0.5px,#00ff02 58.5px,#1bff00 70.5px,#b4ff00 137.5px,#ffff00 172.5px,#ff7600 240.5px,#ff2900 281.5px)"></i>
<i style="background:linear-gradient(90deg,#00ff94 0.5px,#00ff00 60.5px,#9bff00 127.5px,#feff00 173.5px,#ff6900 248.5px,#ff2c00 281.5px)"></i>
<i style="background:linear-gradient(90deg,#00ff97 0.5px,#00ff00 61.5px,#9fff00 130.5px,#fffe00 175.5px,#ff7800 242.5px,#ff2f00 281.5px)"></i>
<i style="background:linear-gradient(90deg,#00ff9a 0.5px,#00ff00 62.5px,#a7ff00 135.5px,#ffff00 176.5px,#ff7800 243.5px,#ff3100 281.5px)"></i>
<i style="background:linear-gradient(90deg,#00ff9c 0.5px,#00ff01 63.5px,#adff00 139.5px,#ffff00 177.5px,#ff6e00 250.5px,#ff3400 281.5px)"></i>
<i style="background:linear-gradient(90deg,#00ff9f 0.5px,#00ff01 64.5px,#b3ff00 143.5px,#fffe00 179.5px,#ff7800 246.5px,#ff3700 281.5px)"></i>
<i style="background:linear-gradient(90deg,#00ffa2 0.5px,#00ff02 65.5px,#30ff00 86.5px,#c6ff00 153.5px,#ffff00 180.5px,#ff7900 247.5px,#ff3900 281.5px)"></i>
<i style="background:linear-gradient(90deg,#00ffa5 0.5px,#00ff02 66.5px,#08ff00 70.5px,#a1ff00 137.5px,#ffff00 181.5px,#ff7600 250.5px,#ff3c00 281.5px)"></i>
<i style="background:linear-gradient(90deg,#00ffa8 0.5px,#00ff02 67.5px,#05ff00 70.5px,#9eff00 137.5px,#feff00 182.5px,#ff6d00 256.5px,#ff3e00 281.5px)"></i>
<i style="background:linear-gradient(90deg,#00ffaa 0.5px,#00ff05 67.5px,#00ff00 69.5px,#9eff00 138.5px,#fffe00 184.5px,#ff7900 251.5px,#ff4100 281.5px)"></i>
<i style="background:linear-gradient(90deg,#00ffad 0.5px,#00ff07 67.5px,#00ff00 70.5px,#a2ff00 141.5px,#ffff00 185.5px,#ff7900 252.5px,#ff4300 281.5px)"></i>
<i style="background:linear-gradient(90deg,#00ffb0 0.5px,#00ff0a 67.5px,#02ff00 72.5px,#9bff00 139.5px,#ffff00 186.5px,#ff7800 254.5px,#ff4600 281.5px)"></i>
<i style="background:linear-gradient(90deg,#00ffb2 0.5px,#00ff0d 67.5px,#02ff00 73.5px,#9aff00 140.5px,#feff00 187.5px,#ff6f00 260.5px,#ff4800 281.5px)"></i>
<i style="background:linear-gradient(90deg,#00ffb5 0.5px,#00ff0f 67.5px,#01ff00 74.5px,#9aff00 141.5px,#fffe00 189.5px,#ff7900 256.5px,#ff4b00 281.5px)"></i>
<i style="background:linear-gradient(90deg,#00ffb7 0.5px,#00ff12 67.5px,#01ff00 75.5px,#9aff00 142.5px,#fffe00 190.5px,#ff7a00 257.5px,#ff4d00 281.5px)"></i>
<i style="background:linear-gradient(90deg,#00ffba 0.5px,#00ff14 67.5px,#01ff00 76.5px,#99ff00 143.5px,#ffff00 191.5px,#ff7a00 258.5px,#ff5000 281.5px)"></i>
<i style="background:linear-gradient(90deg,#00ffbc 0.5px,#00ff17 67.5px,#01ff00 77.5px,#99ff00 144.5px,#ffff00 192.5px,#ff7900 260.5px,#ff5200 281.5px)"></i>
<i style="background:linear-gradient(90deg,#00ffbf 0.5px,#00ff19 67.5px,#01ff00 78.5px,#99ff00 145.5px,#ffff00 193.5px,#ff7200 265.5px,#ff5400 281.5px)"></i>
<i style="background:linear-gradient(90deg,#00ffc2 0.5px,#00ff1c 67.5px,#01ff00 79.5px,#99ff00 146.5px,#feff00 194.5px,#ff6d00 269.5px,#ff5700 281.5px)"></i>
<i style="background:linear-gradient(90deg,#00ffc4 0.5px,#00ff1e 67.5px,#01ff00 80.5px,#98ff00 147.5px,#fffe00 196.5px,#ff7a00 263.5px,#ff5900 281.5px)"></i>
<i style="background:linear-gradient(90deg,#00ffc6 0.5px,#00ff21 67.5px,#00ff00 81.5px,#98ff00 148.5px,#fffe00 197.5px,#ff7b00 264.5px,#ff5b00 281.5px)"></i>
<i style="background:linear-gradient(90deg,#00ffc9 0.5px,#00ff23 67.5px,#00ff00 82.5px,#98ff00 149.5px,#ffff00 198.5px,#ff7b00 265.5px,#ff5e00 281.5px)"></i>
<i style="background:linear-gradient(90deg,#00ffcb 0.5px,#00ff26 67.5px,#00ff00 83.5px,#98ff00 150.5px,#ffff00 199.5px,#ff7c00 266.5px,#ff6000 281.5px)"></i>
<i style="background:linear-gradient(90deg,#00ffce 0.5px,#00ff28 67.5px,#00ff00 84.5px,#98ff00 151.5px,#ffff00 200.5px,#ff7800 269.5px,#ff6200 281.5px)"></i>
<i style="background:linear-gradient(90deg,#00ffd0 0.5px,#00ff2a 67.5px,#00ff00 85.5px,#97ff00 152.5px,#ffff00 201.5px,#ff7300 273.5px,#ff6400 281.5px)"></i>
<i style="background:linear-gradient(90deg,#00ffd2 0.5px,#00ff2d 67.5px,#00ff00 86.5px,#97ff00 153.5px,#feff00 202.5px,#ff7000 276.5px,#ff6700 281.5px)"></i>
<i style="background:linear-gradient(90deg,#00ffd5 0.5px,#00ff2f 67.5px,#00ff00 87.5px,#97ff00 154.5px,#feff00 203.5px,#ff6e00 278.5px,#ff6900 281.5px)"></i>
<i style="background:linear-gradient(90deg,#00ffd7 0.5px,#00ff31 67.5px,#01ff00 88.5px,#97ff00 155.5px,#fffe00 205.5px,#ff7c00 272.5px,#ff6b00 281.5px)"></i>
<i style="background:linear-gradient(90deg,#00ffd9 0.5px,#00ff33 67.5px,#01ff00 89.5px,#97ff00 156.5px,#fffe00 206.5px,#ff7c00 273.5px,#ff6d00 281.5px)"></i>
<i style="background:linear-gradient(90deg,#00ffdc 0.5px,#00ff36 67.5px,#01ff00 90.5px,#97ff00 157.5px,#fffe00 207.5px,#ff7c00 274.5px,#ff6f00 281.5px)"></i>
<i style="background:linear-gradient(90deg,#00ffde 0.5px,#00ff38 67.5px,#01ff00 91.5px,#97ff00 158.5px,#fffe00 208.5px,#ff7c00 275.5px,#ff7100 281.5px)"></i>
<i style="background:linear-gradient(90deg,#00ffe0 0.5px,#00ff3a 67.5px,#01ff00 92.5px,#97ff00 159.5px,#fffe00 209.5px,#ff7d00 276.5px,#ff7300 281.5px)"></i>
<i style="background:linear-gradient(90deg,#00ffe2 0.5px,#00ff3c 67.5px,#01ff00 93.5px,#97ff00 160.5px,#fffe00 210.5px,#ff7d00 277.5px,#ff7500 281.5px)"></i>
<i style="background:linear-gradient(90deg,#00ffe5 0.5px,#00ff3e 67.5px,#01ff00 94.5px,#97ff00 161.5px,#fffe00 211.5px,#ff7d00 278.5px,#ff7700 281.5px)"></i>
<i style="background:linear-gradient(90deg,#00ffe7 0.5px,#00ff40 67.5px,#00ff01 94.5px,#a6ff00 169.5px,#ffff00 212.5px,#ff7d00 279.5px,#ff7900 281.5px)"></i>
<i style="background:linear-gradient(90deg,#00ffe9 0.5px,#00ff43 67.5px,#00ff01 95.5px,#a2ff00 168.5px,#ffff00 213.5px,#ff7d00 280.5px,#ff7b00 281.5px)"></i>
<i style="background:linear-gradient(90deg,#00ffeb 0.5px,#00ff45 67.5px,#00ff00 96.5px,#9eff00 167.5px,#ffff00 214.5px,#ff7d00 281.5px)"></i>
<i style="background:linear-gradient(90deg,#00ffed 0.5px,#00ff47 67.5px,#00ff00 97.5px,#98ff00 165.5px,#fffe00 215.5px,#ff7f00 281.5px)"></i>
<i style="background:linear-gradient(90deg,#00ffef 0.5px,#00ff49 67.5px,#00ff00 98.5px,#96ff00 165.5px,#fffe00 216.5px,#ff8100 281.5px)"></i>
<i style="background:linear-gradient(90deg,#00fff1 0.5px,#00ff4b 67.5px,#01ff00 99.5px,#96ff00 166.5px,#fffe00 217.5px,#ff8300 281.5px)"></i>
<i style="background:linear-gradient(90deg,#00fff3 0.5px,#00ff4d 67.5px,#01ff00 100.5px,#96ff00 167.5px,#fffe00 218.5px,#ff8500 281.5px)"></i>
<i style="background:linear-gradient(90deg,#00fff5 0.5px,#00ff4f 67.5px,#01ff00 101.5px,#96ff00 168.5px,#fffe00 219.5px,#ff8700 281.5px)"></i>
<i style="background:linear-gradient(90deg,#00fff7 0.5px,#00ff51 67.5px,#00ff01 101.5px,#a3ff00 175.5px,#fffe00 220.5px,#ff8900 281.5px)"></i>
<i style="background:linear-gradient(90deg,#00fff9 0.5px,#00ff53 67.5px,#00ff00 102.5px,#9dff00 173.5px,#fffe00 221.5px,#ff8b00 281.5px)"></i>
<i style="background:linear-gradient(90deg,#00fffb 0.5px,#00ff55 67.5px,#00ff00 103.5px,#95ff00 170.5px,#feff00 221.5px,#ff8c00 281.5px)"></i>
<i style="background:linear-gradient(90deg,#00fffd 0.5px,#00ff57 67.5px,#01ff00 104.5px,#95ff00 171.5px,#feff00 222.5px,#ff8e00 281.5px)"></i>
<i style="background:linear-gradient(90deg,#00ffff 0.5px,#00ff54 69.5px,#01ff00 105.5px,#95ff00 172.5px,#ffff00 223.5px,#ff9000 281.5px)"></i>
<i style="background:linear-gradient(90deg,#00fdff 0.5px,#00fff9 3.5px,#00ff53 70.5px,#01ff00 106.5px,#96ff00 173.5px,#ffff00 224.5px,#ff9200 281.5px)"></i>
<i style="background:linear-gradient(90deg,#00fbff 0.5px,#00fffb 3.5px,#00ff55 70.5px,#00ff00 106.5px,#9dff00 177.5px,#ffff00 225.5px,#ff9300 281.5px)"></i>
<i style="background:linear-gradient(90deg,#00f9ff 0.5px,#00fffd 3.5px,#00ff57 70.5px,#00ff00 107.5px,#94ff00 174.5px,#ffff00 226.5px,#ff9500 281.5px)"></i>
<i style="background:linear-gradient(90deg,#00f7ff 0.5px,#00ffff 3.5px,#00ff58 70.5px,#01ff00 108.5px,#95ff00 175.5px,#fffe00 227.5px,#ff9700 281.5px)"></i>
<i style="background:linear-gradient(90deg,#00f6ff 0.5px,#00fffe 4.5px,#00ff58 71.5px,#01ff00 109.5px,#95ff00 176.5px,#fffe00 228.5px,#ff9800 281.5px)"></i>
<i style="background:linear-gradient(90deg,#00f4ff 0.5px,#00fffd 5.5px,#00ff57 72.5px,#00ff00 109.5px,#a0ff00 182.5px,#feff00 228.5px,#ff9a00 281.5px)"></i>
<i style="background:linear-gradient(90deg,#00f2ff 0.5px,#00ffff 5.5px,#00ff57 73.5px,#00ff00 110.5px,#94ff00 177.5px,#ffff00 229.5px,#ff9c00 281.5px)"></i>
<i style="background:linear-gradient(90deg,#00f0ff 0.5px,#00fffe 6.5px,#00ff58 73.5px,#01ff00 111.5px,#94ff00 178.5px,#ffff00 230.5px,#ff9d00 281.5px)"></i>
<i style="background:linear-gradient(90deg,#00efff 0.5px,#00fffd 7.5px,#00ff58 74.5px,#01ff00 112.5px,#95ff00 179.5px,#ffff00 231.5px,#ff9f00 281.5px)"></i>
<i style="background:linear-gradient(90deg,#00edff 0.5px,#00ffff 7.5px,#00ff54 76.5px,#00ff00 112.5px,#9cff00 183.5px,#fffe00 232.5px,#ffa000 281.5px)"></i>
<i style="background:linear-gradient(90deg,#00ebff 0.5px,#00fffe 8.5px,#00ff58 75.5px,#00ff00 113.5px,#94ff00 180.5px,#feff00 232.5px,#ffa200 281.5px)"></i>
<i style="background:linear-gradient(90deg,#00eaff 0.5px,#00feff 8.5px,#00ff45 84.5px,#01ff00 114.5px,#94ff00 181.5px,#ffff00 233.5px,#ffa300 281.5px)"></i>
<i style="background:linear-gradient(90deg,#00e8ff 0.5px,#00ffff 9.5px,#00ff59 76.5px,#00ff00 114.5px,#a0ff00 187.5px,#ffff00 234.5px,#ffa500 281.5px)"></i>
<i style="background:linear-gradient(90deg,#00e6ff 0.5px,#00fffe 10.5px,#00ff58 77.5px,#00ff00 115.5px,#93ff00 182.5px,#fffe00 235.5px,#ffa600 281.5px)"></i>
<i style="background:linear-gradient(90deg,#00e5ff 0.5px,#00feff 10.5px,#00ff49 84.5px,#01ff00 116.5px,#94ff00 183.5px,#feff00 235.5px,#ffa800 281.5px)"></i>
<i style="background:linear-gradient(90deg,#00e3ff 0.5px,#00ffff 11.5px,#00ff59 78.5px,#00ff01 116.5px,#9fff00 189.5px,#ffff00 236.5px,#ffa900 281.5px)"></i>
<i style="background:linear-gradient(90deg,#00e2ff 0.5px,#00fffe 12.5px,#00ff58 79.5px,#00ff00 117.5px,#93ff00 184.5px,#ffff00 237.5px,#ffab00 281.5px)"></i>
<i style="background:linear-gradient(90deg,#00e0ff 0.5px,#00ffff 12.5px,#00ff55 81.5px,#01ff00 118.5px,#94ff00 185.5px,#fffe00 238.5px,#ffac00 281.5px)"></i>
<i style="background:linear-gradient(90deg,#00dfff 0.5px,#00fffe 13.5px,#00ff59 80.5px,#00ff00 118.5px,#9bff00 189.5px,#ffff00 238.5px,#ffad00 281.5px)"></i>
<i style="background:linear-gradient(90deg,#00ddff 0.5px,#00feff 13.5px,#00ff4c 86.5px,#01ff00 119.5px,#93ff00 186.5px,#ffff00 239.5px,#ffaf00 281.5px)"></i>
<i style="background:linear-gradient(90deg,#00dcff 0.5px,#00fffe 14.5px,#00ff59 81.5px,#01ff00 120.5px,#94ff00 187.5px,#fffe00 240.5px,#ffb000 281.5px)"></i>
<i style="background:linear-gradient(90deg,#00daff 0.5px,#00feff 14.5px,#00ff45 90.5px,#00ff00 120.5px,#93ff00 187.5px,#feff00 240.5px,#ffb100 281.5px)"></i>
<i style="background:linear-gradient(90deg,#00d9ff 0.5px,#00ffff 15.5px,#00ff5a 82.5px,#01ff00 121.5px,#93ff00 188.5px,#ffff00 241.5px,#ffb200 281.5px)"></i>
<i style="background:linear-gradient(90deg,#00d7ff 0.5px,#00fffe 16.5px,#00ff59 83.5px,#00ff00 121.5px,#9dff00 193.5px,#fffe00 242.5px,#ffb400 281.5px)"></i>
<i style="background:linear-gradient(90deg,#00d6ff 0.5px,#00ffff 16.5px,#00ff5a 83.5px,#01ff00 122.5px,#93ff00 189.5px,#ffff00 242.5px,#ffb500 281.5px)"></i>
<i style="background:linear-gradient(90deg,#00d5ff 0.5px,#00fffe 17.5px,#00ff59 84.5px,#00ff01 122.5px,#a2ff00 197.5px,#ffff00 243.5px,#ffb600 281.5px)"></i>
<i style="background:linear-gradient(90deg,#00d3ff 0.5px,#00ffff 17.5px,#00ff56 86.5px,#00ff00 123.5px,#93ff00 190.5px,#feff00 243.5px,#ffb700 281.5px)"></i>
<i style="background:linear-gradient(90deg,#00d2ff 0.5px,#00fffe 18.5px,#00ff59 85.5px,#01ff00 124.5px,#93ff00 191.5px,#ffff00 244.5px,#ffb800 281.5px)"></i>
<i style="background:linear-gradient(90deg,#00d1ff 0.5px,#00ffff 18.5px,#00ff56 87.5px,#00ff00 124.5px,#92ff00 191.5px,#fffe00 245.5px,#ffba00 281.5px)"></i>
<i style="background:linear-gradient(90deg,#00cfff 0.5px,#00fffe 19.5px,#00ff59 86.5px,#01ff00 125.5px,#93ff00 192.5px,#ffff00 245.5px,#ffbb00 281.5px)"></i>
<i style="background:linear-gradient(90deg,#00ceff 0.5px,#00ffff 19.5px,#00ff56 88.5px,#00ff00 125.5px,#94ff00 193.5px,#ffff00 246.5px,#ffbc00 281.5px)"></i>
<i style="background:linear-gradient(90deg,#00cdff 0.5px,#00fffe 20.5px,#00ff59 87.5px,#01ff00 126.5px,#93ff00 193.5px,#feff00 246.5px,#ffbd00 281.5px)"></i>
<i style="background:linear-gradient(90deg,#00ccff 0.5px,#00ffff 20.5px,#00ff58 88.5px,#00ff00 126.5px,#96ff00 195.5px,#ffff00 247.5px,#ffbe00 281.5px)"></i>
<i style="background:linear-gradient(90deg,#00caff 0.5px,#00fffe 21.5px,#00ff59 88.5px,#01ff00 127.5px,#93ff00 194.5px,#feff00 247.5px,#ffbf00 281.5px)"></i>
<i style="background:linear-gradient(90deg,#00c9ff 0.5px,#00ffff 21.5px,#00ff5a 88.5px,#00ff00 127.5px,#94ff00 195.5px,#ffff00 248.5px,#ffc000 281.5px)"></i>
<i style="background:linear-gradient(90deg,#00c8ff 0.5px,#00feff 21.5px,#00ff44 98.5px,#01ff00 128.5px,#93ff00 195.5px,#feff00 248.5px,#ffc100 281.5px)"></i>
<i style="background:linear-gradient(90deg,#00c7ff 0.5px,#00ffff 22.5px,#00ff5a 89.5px,#00ff00 128.5px,#92ff00 195.5px,#ffff00 249.5px,#ffc200 281.5px)"></i>
<i style="background:linear-gradient(90deg,#00c6ff 0.5px,#00feff 22.5px,#00ff4b 96.5px,#01ff00 129.5px,#93ff00 196.5px,#fffe00 250.5px,#ffc300 281.5px)"></i>
<i style="background:linear-gradient(90deg,#00c5ff 0.5px,#00fffe 23.5px,#00ff5a 90.5px,#00ff00 129.5px,#92ff00 196.5px,#ffff00 250.5px,#ffc400 281.5px)"></i>
<i style="background:linear-gradient(90deg,#00c4ff 0.5px,#00ffff 23.5px,#00ff54 93.5px,#00ff01 129.5px,#a2ff00 204.5px,#fffe00 251.5px,#ffc500 281.5px)"></i>
<i style="background:linear-gradient(90deg,#00c3ff 0.5px,#00fffe 24.5px,#00ff5a 91.5px,#01ff00 130.5px,#92ff00 197.5px,#ffff00 251.5px,#ffc600 281.5px)"></i>
<i style="background:linear-gradient(90deg,#00c2ff 0.5px,#00ffff 24.5px,#00ff5b 91.5px,#00ff00 130.5px,#9cff00 202.5px,#feff00 251.5px,#ffc600 281.5px)"></i>
<i style="background:linear-gradient(90deg,#00c1ff 0.5px,#00feff 24.5px,#00ff49 99.5px,#01ff00 131.5px,#93ff00 198.5px,#ffff00 252.5px,#ffc700 281.5px)"></i>
<i style="background:linear-gradient(90deg,#00c0ff 0.5px,#00fffe 25.5px,#00ff5a 92.5px,#00ff00 131.5px,#92ff00 198.5px,#ffff00 252.5px,#ffc800 281.5px)"></i>
<i style="background:linear-gradient(90deg,#00bfff 0.5px,#00ffff 25.5px,#00ff59 93.5px,#01ff00 132.5px,#93ff00 199.5px,#fffe00 253.5px,#ffc900 281.5px)"></i>
<i style="background:linear-gradient(90deg,#00beff 0.5px,#00feff 25.5px,#00ff44 102.5px,#01ff00 132.5px,#92ff00 199.5px,#ffff00 253.5px,#ffca00 281.5px)"></i>
<i style="background:linear-gradient(90deg,#00bdff 0.5px,#00fffe 26.5px,#00ff5a 93.5px,#00ff00 132.5px,#9aff00 203.5px,#fffe00 254.5px,#ffca00 281.5px)"></i>
<i style="background:linear-gradient(90deg,#00bcff 0.5px,#00ffff 26.5px,#00ff54 96.5px,#01ff00 133.5px,#93ff00 200.5px,#ffff00 254.5px,#ffcb00 281.5px)"></i>
<i style="background:linear-gradient(90deg,#00bbff 0.5px,#00fffe 27.5px,#00ff5a 94.5px,#00ff00 133.5px,#92ff00 200.5px,#ffff00 254.5px,#ffcc00 281.5px)"></i>
<i style="background:linear-gradient(90deg,#00baff 0.5px,#00fffe 27.5px,#00ff5a 94.5px,#00ff00 133.5px,#9bff00 205.5px,#fffe00 255.5px,#ffcd00 281.5px)"></i>
<i style="background:linear-gradient(90deg,#00b9ff 0.5px,#00ffff 27.5px,#00ff54 97.5px,#01ff00 134.5px,#92ff00 201.5px,#ffff00 255.5px,#ffcd00 281.5px)"></i>
<i style="background:linear-gradient(90deg,#00b9ff 0.5px,#00fffd 28.5px,#00ff5a 95.5px,#00ff00 134.5px,#92ff00 201.5px,#feff00 255.5px,#ffce00 281.5px)"></i>
<i style="background:linear-gradient(90deg,#00b8ff 0.5px,#00fffe 28.5px,#00ff5a 95.5px,#00ff00 134.5px,#99ff00 205.5px,#fffe00 256.5px,#ffcf00 281.5px)"></i>
<i style="background:linear-gradient(90deg,#00b7ff 0.5px,#00ffff 28.5px,#00ff59 96.5px,#01ff00 135.5px,#92ff00 202.5px,#ffff00 256.5px,#ffcf00 281.5px)"></i>
<i style="background:linear-gradient(90deg,#00b6ff 0.5px,#00feff 28.5px,#00ff49 103.5px,#01ff00 135.5px,#92ff00 202.5px,#feff00 256.5px,#ffd000 281.5px)"></i>
<i style="background:linear-gradient(90deg,#00b6ff 0.5px,#00fffe 29.5px,#00ff5a 96.5px,#00ff00 135.5px,#95ff00 204.5px,#fffe00 257.5px,#ffd000 281.5px)"></i>
<i style="background:linear-gradient(90deg,#00b5ff 0.5px,#00ffff 29.5px,#00ff5b 96.5px,#00ff01 135.5px,#a1ff00 210.5px,#ffff00 257.5px,#ffd100 281.5px)"></i>
<i style="background:linear-gradient(90deg,#00b4ff 0.5px,#00ffff 29.5px,#00ff52 100.5px,#01ff00 136.5px,#92ff00 203.5px,#ffff00 257.5px,#ffd100 281.5px)"></i>
<i style="background:linear-gradient(90deg,#00b3ff 0.5px,#00feff 29.5px,#00ff45 106.5px,#00ff00 136.5px,#92ff00 203.5px,#feff00 257.5px,#ffd200 281.5px)"></i>
<i style="background:linear-gradient(90deg,#00b3ff 0.5px,#00fffe 30.5px,#00ff5a 97.5px,#00ff00 136.5px,#97ff00 206.5px,#fffe00 258.5px,#ffd200 281.5px)"></i>
<i style="background:linear-gradient(90deg,#00b2ff 0.5px,#00ffff 30.5px,#00ff5b 97.5px,#01ff00 137.5px,#93ff00 204.5px,#ffff00 258.5px,#ffd300 281.5px)"></i>
<i style="background:linear-gradient(90deg,#00b2ff 0.5px,#00ffff 30.5px,#00ff54 100.5px,#01ff00 137.5px,#92ff00 204.5px,#ffff00 258.5px,#ffd300 281.5px)"></i>
<i style="background:linear-gradient(90deg,#00b1ff 0.5px,#00feff 30.5px,#00ff49 105.5px,#00ff00 137.5px,#92ff00 204.5px,#feff00 258.5px,#ffd400 281.5px)"></i>
<i style="background:linear-gradient(90deg,#00b1ff 0.5px,#00fffe 31.5px,#00ff5a 98.5px,#00ff00 137.5px,#93ff00 205.5px,#fffe00 259.5px,#ffd400 281.5px)"></i>
<i style="background:linear-gradient(90deg,#00b0ff 0.5px,#00fffe 31.5px,#00ff5a 98.5px,#00ff01 137.5px,#9dff00 210.5px,#ffff00 259.5px,#ffd400 281.5px)"></i>
<i style="background:linear-gradient(90deg,#00afff 0.5px,#00ffff 31.5px,#00ff5b 98.5px,#01ff00 138.5px,#93ff00 205.5px,#ffff00 259.5px,#ffd500 281.5px)"></i>
<i style="background:linear-gradient(90deg,#00afff 0.5px,#00ffff 31.5px,#00ff54 101.5px,#01ff00 138.5px,#92ff00 205.5px,#ffff00 259.5px,#ffd500 281.5px)"></i>
<i style="background:linear-gradient(90deg,#00aeff 0.5px,#00feff 31.5px,#00ff49 106.5px,#01ff00 138.5px,#92ff00 205.5px,#feff00 259.5px,#ffd500 281.5px)"></i>
<i style="background:linear-gradient(90deg,#00aeff 0.5px,#00fffe 32.5px,#00ff5a 99.5px,#00ff00 138.5px,#91ff00 205.5px,#feff00 259.5px,#ffd600 281.5px)"></i>
<i style="background:linear-gradient(90deg,#00aeff 0.5px,#00fffe 32.5px,#00ff5a 99.5px,#00ff00 138.5px,#97ff00 208.5px,#fffe00 260.5px,#ffd600 281.5px)"></i>
<i style="background:linear-gradient(90deg,#00adff 0.5px,#00fffe 32.5px,#00ff5b 99.5px,#00ff01 138.5px,#9dff00 211.5px,#fffe00 260.5px,#ffd600 281.5px)"></i>
<i style="background:linear-gradient(90deg,#00adff 0.5px,#00ffff 32.5px,#00ff5b 99.5px,#01ff00 139.5px,#93ff00 206.5px,#ffff00 260.5px,#ffd700 281.5px)"></i>
<i style="background:linear-gradient(90deg,#00acff 0.5px,#00ffff 32.5px,#00ff56 101.5px,#01ff00 139.5px,#92ff00 206.5px,#ffff00 260.5px,#ffd700 281.5px)"></i>
<i style="background:linear-gradient(90deg,#00acff 0.5px,#00ffff 32.5px,#00ff50 104.5px,#01ff00 139.5px,#92ff00 206.5px,#ffff00 260.5px,#ffd700 281.5px)"></i>
<i style="background:linear-gradient(90deg,#00acff 0.5px,#00feff 32.5px,#00ff49 107.5px,#01ff00 139.5px,#92ff00 206.5px,#ffff00 260.5px,#ffd700 281.5px)"></i>
<i style="background:linear-gradient(90deg,#00abff 0.5px,#00fffe 33.5px,#00ff5a 100.5px,#00ff00 139.5px,#92ff00 206.5px,#ffff00 260.5px,#ffd700 281.5px)"></i>
<i style="background:linear-gradient(90deg,#00abff 0.5px,#00fffe 33.5px,#00ff5a 100.5px,#00ff00 139.5px,#92ff00 206.5px,#feff00 260.5px,#ffd700 281.5px)"></i>
<i style="background:linear-gradient(90deg,#00abff 0.5px,#00fffe 33.5px,#00ff5a 100.5px,#00ff00 139.5px,#94ff00 207.5px,#feff00 260.5px,#ffd700 281.5px)"></i>
<i style="background:linear-gradient(90deg,#00abff 0.5px,#00fffe 33.5px,#00ff5a 100.5px,#00ff00 139.5px,#96ff00 208.5px,#feff00 260.5px,#ffd800 281.5px)"></i>
<i style="background:linear-gradient(90deg,#00aaff 0.5px,#00fffe 33.5px,#00ff5a 100.5px,#00ff00 139.5px,#9aff00 210.5px,#fffe00 261.5px,#ffd800 281.5px)"></i>
<i style="background:linear-gradient(90deg,#00aaff 0.5px,#00ffff 33.5px,#00ff5b 100.5px,#00ff00 139.5px,#9cff00 211.5px,#fffe00 261.5px,#ffd800 281.5px)"></i>
<i style="background:linear-gradient(90deg,#00aaff 0.5px,#00ffff 33.5px,#00ff5b 100.5px,#00ff01 139.5px,#9eff00 212.5px,#fffe00 261.5px,#ffd800 281.5px)"></i>
<i style="background:linear-gradient(90deg,#00aaff 0.5px,#00ffff 33.5px,#00ff5b 100.5px,#00ff01 139.5px,#a0ff00 213.5px,#fffe00 261.5px,#ffd800 281.5px)"></i>
<i style="background:linear-gradient(90deg,#00aaff 0.5px,#00ffff 33.5px,#00ff58 101.5px,#00ff01 139.5px,#a0ff00 213.5px,#fffe00 261.5px,#ffd800 281.5px)"></i>
<i style="background:linear-gradient(90deg,#00aaff 0.5px,#00ffff 33.5px,#00ff56 102.5px,#00ff01 139.5px,#a0ff00 213.5px,#fffe00 261.5px,#ffd800 281.5px)"></i>
<i style="background:linear-gradient(90deg,#00aaff 0.5px,#00ffff 33.5px,#00ff56 102.5px,#00ff01 139.5px,#a2ff00 214.5px,#fffe00 261.5px,#ffd700 281.5px)"></i>
<i style="background:linear-gradient(90deg,#00aaff 0.5px,#00ffff 33.5px,#00ff54 103.5px,#00ff01 139.5px,#a0ff00 213.5px,#fffe00 261.5px,#ffd700 281.5px)"></i>
<i style="background:linear-gradient(90deg,#00aaff 0.5px,#00ffff 33.5px,#00ff54 103.5px,#00ff01 139.5px,#a0ff00 213.5px,#feff00 260.5px,#ffd700 281.5px)"></i>
<i style="background:linear-gradient(90deg,#00a9ff 0.5px,#00ffff 33.5px,#00ff54 103.5px,#00ff01 139.5px,#a0ff00 213.5px,#feff00 260.5px,#ffd700 281.5px)"></i>
<i style="background:linear-gradient(90deg,#00a9ff 0.5px,#00ffff 33.5px,#00ff54 103.5px,#00ff01 139.5px,#9eff00 212.5px,#ffff00 260.5px,#ffd700 281.5px)"></i>
<i style="background:linear-gradient(90deg,#00a9ff 0.5px,#00ffff 33.5px,#00ff54 103.5px,#00ff00 139.5px,#9cff00 211.5px,#ffff00 260.5px,#ffd700 281.5px)"></i>
<i style="background:linear-gradient(90deg,#00aaff 0.5px,#00ffff 33.5px,#00ff56 102.5px,#00ff00 139.5px,#9aff00 210.5px,#ffff00 260.5px,#ffd700 281.5px)"></i>
<i style="background:linear-gradient(90deg,#00aaff 0.5px,#00ffff 33.5px,#00ff58 101.5px,#00ff00 139.5px,#96ff00 208.5px,#ffff00 260.5px,#ffd600 281.5px)"></i>
<i style="background:linear-gradient(90deg,#00aaff 0.5px,#00ffff 33.5px,#00ff5a 100.5px,#00ff00 139.5px,#94ff00 207.5px,#ffff00 260.5px,#ffd600 281.5px)"></i>
<i style="background:linear-gradient(90deg,#00aaff 0.5px,#00ffff 33.5px,#00ff5a 100.5px,#00ff00 139.5px,#92ff00 206.5px,#fffe00 260.5px,#ffd600 281.5px)"></i>
<i style="background:linear-gradient(90deg,#00aaff 0.5px,#00ffff 33.5px,#00ff5a 100.5px,#00ff00 139.5px,#93ff00 206.5px,#fffe00 260.5px,#ffd600 281.5px)"></i>
<i style="background:linear-gradient(90deg,#00aaff 0.5px,#00ffff 33.5px,#00ff5a 100.5px,#01ff00 139.5px,#93ff00 206.5px,#feff00 259.5px,#ffd500 281.5px)"></i>
<i style="background:linear-gradient(90deg,#00aaff 0.5px,#00fffe 33.5px,#00ff5a 100.5px,#01ff00 139.5px,#93ff00 206.5px,#ffff00 259.5px,#ffd500 281.5px)"></i>
<i style="background:linear-gradient(90deg,#00aaff 0.5px,#00fffe 33.5px,#00ff59 100.5px,#01ff00 139.5px,#93ff00 206.5px,#ffff00 259.5px,#ffd500 281.5px)"></i>
<i style="background:linear-gradient(90deg,#00abff 0.5px,#00fffe 33.5px,#00ff59 100.5px,#01ff00 139.5px,#94ff00 206.5px,#ffff00 259.5px,#ffd400 281.5px)"></i>
<i style="background:linear-gradient(90deg,#00abff 0.5px,#00fffe 33.5px,#00ff59 100.5px,#00ff01 138.5px,#a1ff00 212.5px,#fffe00 259.5px,#ffd400 281.5px)"></i>
<i style="background:linear-gradient(90deg,#00abff 0.5px,#00feff 32.5px,#00ff43 109.5px,#00ff00 138.5px,#99ff00 208.5px,#fffe00 259.5px,#ffd400 281.5px)"></i>
<i style="background:linear-gradient(90deg,#00abff 0.5px,#00feff 32.5px,#00ff48 107.5px,#00ff00 138.5px,#93ff00 205.5px,#feff00 258.5px,#ffd300 281.5px)"></i>
<i style="background:linear-gradient(90deg,#00acff 0.5px,#00ffff 32.5px,#00ff4e 104.5px,#00ff00 138.5px,#93ff00 205.5px,#ffff00 258.5px,#ffd300 281.5px)"></i>
<i style="background:linear-gradient(90deg,#00acff 0.5px,#00ffff 32.5px,#00ff58 100.5px,#01ff00 138.5px,#94ff00 205.5px,#ffff00 258.5px,#ffd200 281.5px)"></i>
<i style="background:linear-gradient(90deg,#00acff 0.5px,#00ffff 32.5px,#00ff5a 99.5px,#01ff00 138.5px,#94ff00 205.5px,#fffe00 258.5px,#ffd200 281.5px)"></i>
<i style="background:linear-gradient(90deg,#00adff 0.5px,#00fffe 32.5px,#00ff59 99.5px,#00ff01 137.5px,#9fff00 210.5px,#feff00 257.5px,#ffd100 281.5px)"></i>
<i style="background:linear-gradient(90deg,#00adff 0.5px,#00fffe 32.5px,#00ff59 99.5px,#00ff00 137.5px,#97ff00 206.5px,#ffff00 257.5px,#ffd100 281.5px)"></i>
<i style="background:linear-gradient(90deg,#00adff 0.5px,#00fffe 32.5px,#00ff58 99.5px,#00ff00 137.5px,#93ff00 204.5px,#ffff00 257.5px,#ffd000 281.5px)"></i>
<i style="background:linear-gradient(90deg,#00aeff 0.5px,#00feff 31.5px,#00ff4a 105.5px,#01ff00 137.5px,#94ff00 204.5px,#fffe00 257.5px,#ffcf00 281.5px)"></i>
<i style="background:linear-gradient(90deg,#00aeff 0.5px,#00ffff 31.5px,#00ff55 100.5px,#01ff00 137.5px,#94ff00 204.5px,#ffff00 256.5px,#ffcf00 281.5px)"></i>
<i style="background:linear-gradient(90deg,#00afff 0.5px,#00ffff 31.5px,#00ff59 98.5px,#00ff00 136.5px,#9dff00 208.5px,#ffff00 256.5px,#ffce00 281.5px)"></i>
<i style="background:linear-gradient(90deg,#00afff 0.5px,#00fffe 31.5px,#00ff59 98.5px,#00ff00 136.5px,#94ff00 203.5px,#fffe00 256.5px,#ffce00 281.5px)"></i>
<i style="background:linear-gradient(90deg,#00b0ff 0.5px,#00fffe 31.5px,#00ff58 98.5px,#01ff00 136.5px,#94ff00 203.5px,#ffff00 255.5px,#ffcd00 281.5px)"></i>
<i style="background:linear-gradient(90deg,#00b0ff 0.5px,#00feff 30.5px,#00ff47 105.5px,#01ff00 136.5px,#95ff00 203.5px,#ffff00 255.5px,#ffcc00 281.5px)"></i>
<i style="background:linear-gradient(90deg,#00b1ff 0.5px,#00ffff 30.5px,#00ff54 99.5px,#00ff00 135.5px,#9cff00 206.5px,#fffe00 255.5px,#ffcc00 281.5px)"></i>
<i style="background:linear-gradient(90deg,#00b1ff 0.5px,#00ffff 30.5px,#00ff59 97.5px,#00ff00 135.5px,#94ff00 202.5px,#ffff00 254.5px,#ffcb00 281.5px)"></i>
<i style="background:linear-gradient(90deg,#00b2ff 0.5px,#00fffe 30.5px,#00ff58 97.5px,#01ff00 135.5px,#95ff00 202.5px,#ffff00 254.5px,#ffca00 281.5px)"></i>
<i style="background:linear-gradient(90deg,#00b3ff 0.5px,#00feff 29.5px,#00ff44 105.5px,#00ff01 134.5px,#a2ff00 208.5px,#fffe00 254.5px,#ffc900 281.5px)"></i>
<i style="background:linear-gradient(90deg,#00b3ff 0.5px,#00ffff 29.5px,#00ff52 99.5px,#00ff00 134.5px,#94ff00 201.5px,#ffff00 253.5px,#ffc900 281.5px)"></i>
<i style="background:linear-gradient(90deg,#00b4ff 0.5px,#00ffff 29.5px,#00ff58 96.5px,#01ff00 134.5px,#95ff00 201.5px,#fffe00 253.5px,#ffc800 281.5px)"></i>
<i style="background:linear-gradient(90deg,#00b5ff 0.5px,#00fffe 29.5px,#00ff58 96.5px,#00ff01 133.5px,#a4ff00 208.5px,#feff00 252.5px,#ffc700 281.5px)"></i>
<i style="background:linear-gradient(90deg,#00b5ff 0.5px,#00feff 28.5px,#00ff46 103.5px,#00ff00 133.5px,#94ff00 200.5px,#ffff00 252.5px,#ffc600 281.5px)"></i>
<i style="background:linear-gradient(90deg,#00b6ff 0.5px,#00ffff 28.5px,#00ff58 95.5px,#01ff00 133.5px,#95ff00 200.5px,#feff00 251.5px,#ffc500 281.5px)"></i>
<i style="background:linear-gradient(90deg,#00b7ff 0.5px,#00fffe 28.5px,#00ff58 95.5px,#00ff01 132.5px,#a3ff00 206.5px,#ffff00 251.5px,#ffc400 281.5px)"></i>
<i style="background:linear-gradient(90deg,#00b7ff 0.5px,#00feff 27.5px,#00ff3f 105.5px,#00ff00 132.5px,#95ff00 199.5px,#fffe00 251.5px,#ffc300 281.5px)"></i>
<i style="background:linear-gradient(90deg,#00b8ff 0.5px,#00ffff 27.5px,#00ff51 97.5px,#01ff00 132.5px,#96ff00 199.5px,#ffff00 250.5px,#ffc200 281.5px)"></i>
<i style="background:linear-gradient(90deg,#00b9ff 0.5px,#00fffe 27.5px,#00ff58 94.5px,#00ff00 131.5px,#9fff00 203.5px,#fffe00 250.5px,#ffc100 281.5px)"></i>
<i style="background:linear-gradient(90deg,#00baff 0.5px,#00fffe 27.5px,#00ff57 94.5px,#01ff00 131.5px,#95ff00 198.5px,#ffff00 249.5px,#ffc000 281.5px)"></i>
<i style="background:linear-gradient(90deg,#00bbff 0.5px,#00ffff 26.5px,#00ff4f 97.5px,#01ff00 131.5px,#96ff00 198.5px,#fffe00 249.5px,#ffbf00 281.5px)"></i>
<i style="background:linear-gradient(90deg,#00bcff 0.5px,#00fffe 26.5px,#00ff57 93.5px,#00ff00 130.5px,#95ff00 197.5px,#ffff00 248.5px,#ffbe00 281.5px)"></i>
<i style="background:linear-gradient(90deg,#00bcff 0.5px,#00fffe 26.5px,#00ff56 93.5px,#01ff00 130.5px,#96ff00 197.5px,#fffe00 248.5px,#ffbd00 281.5px)"></i>
<i style="background:linear-gradient(90deg,#00bdff 0.5px,#00ffff 25.5px,#00ff51 95.5px,#00ff00 129.5px,#9eff00 200.5px,#ffff00 247.5px,#ffbc00 281.5px)"></i>
<i style="background:linear-gradient(90deg,#00beff 0.5px,#00fffe 25.5px,#00ff57 92.5px,#01ff00 129.5px,#96ff00 196.5px,#fffe00 247.5px,#ffbb00 281.5px)"></i>
<i style="background:linear-gradient(90deg,#00bfff 0.5px,#00feff 24.5px,#00ff43 100.5px,#00ff01 128.5px,#a4ff00 202.5px,#ffff00 246.5px,#ffba00 281.5px)"></i>
<i style="background:linear-gradient(90deg,#00c0ff 0.5px,#00ffff 24.5px,#00ff57 91.5px,#00ff00 128.5px,#96ff00 195.5px,#fffe00 246.5px,#ffb900 281.5px)"></i>
<i style="background:linear-gradient(90deg,#00c1ff 0.5px,#00fffe 24.5px,#00ff56 91.5px,#00ff01 127.5px,#a8ff00 203.5px,#ffff00 245.5px,#ffb800 281.5px)"></i>
<i style="background:linear-gradient(90deg,#00c2ff 0.5px,#00ffff 23.5px,#00ff4b 95.5px,#00ff00 127.5px,#96ff00 194.5px,#feff00 244.5px,#ffb700 281.5px)"></i>
<i style="background:linear-gradient(90deg,#00c3ff 0.5px,#00fffe 23.5px,#00ff56 90.5px,#01ff00 127.5px,#97ff00 194.5px,#fffe00 244.5px,#ffb500 281.5px)"></i>
<i style="background:linear-gradient(90deg,#00c4ff 0.5px,#00feff 22.5px,#00ff40 99.5px,#00ff00 126.5px,#96ff00 193.5px,#ffff00 243.5px,#ffb400 281.5px)"></i>
<i style="background:linear-gradient(90deg,#00c5ff 0.5px,#00ffff 22.5px,#00ff57 89.5px,#01ff00 126.5px,#97ff00 193.5px,#fffe00 243.5px,#ffb300 281.5px)"></i>
<i style="background:linear-gradient(90deg,#00c6ff 0.5px,#00fffe 22.5px,#00ff55 89.5px,#00ff00 125.5px,#97ff00 192.5px,#ffff00 242.5px,#ffb200 281.5px)"></i>
<i style="background:linear-gradient(90deg,#00c8ff 0.5px,#00ffff 21.5px,#00ff4f 91.5px,#01ff00 125.5px,#98ff00 192.5px,#feff00 241.5px,#ffb100 281.5px)"></i>
<i style="background:linear-gradient(90deg,#00c9ff 0.5px,#00fffe 21.5px,#00ff56 88.5px,#00ff00 124.5px,#97ff00 191.5px,#fffe00 241.5px,#ffaf00 281.5px)"></i>
<i style="background:linear-gradient(90deg,#00caff 0.5px,#00ffff 20.5px,#00ff48 93.5px,#01ff00 124.5px,#98ff00 191.5px,#ffff00 240.5px,#ffae00 281.5px)"></i>
<i style="background:linear-gradient(90deg,#00cbff 0.5px,#00fffe 20.5px,#00ff56 87.5px,#00ff00 123.5px,#97ff00 190.5px,#feff00 239.5px,#ffad00 281.5px)"></i>
<i style="background:linear-gradient(90deg,#00ccff 0.5px,#00feff 19.5px,#00ff43 94.5px,#00ff01 122.5px,#a8ff00 197.5px,#fffe00 239.5px,#ffab00 281.5px)"></i>
<i style="background:linear-gradient(90deg,#00cdff 0.5px,#00fffe 19.5px,#00ff55 86.5px,#01ff00 122.5px,#98ff00 189.5px,#ffff00 238.5px,#ffaa00 281.5px)"></i>
<i style="background:linear-gradient(90deg,#00cfff 0.5px,#00feff 18.5px,#00ff41 94.5px,#00ff00 121.5px,#a2ff00 193.5px,#fffe00 238.5px,#ffa800 281.5px)"></i>
<i style="background:linear-gradient(90deg,#00d0ff 0.5px,#00ffff 18.5px,#00ff55 85.5px,#01ff00 121.5px,#98ff00 188.5px,#fffe00 237.5px,#ffa700 281.5px)"></i>
<i style="background:linear-gradient(90deg,#00d1ff 0.5px,#00feff 17.5px,#00ff40 93.5px,#00ff00 120.5px,#9aff00 188.5px,#ffff00 236.5px,#ffa600 281.5px)"></i>
<i style="background:linear-gradient(90deg,#00d3ff 0.5px,#00ffff 17.5px,#00ff55 84.5px,#01ff00 120.5px,#99ff00 187.5px,#feff00 235.5px,#ffa400 281.5px)"></i>
<i style="background:linear-gradient(90deg,#00d4ff 0.5px,#00feff 16.5px,#00ff40 92.5px,#00ff00 119.5px,#98ff00 186.5px,#fffe00 235.5px,#ffa300 281.5px)"></i>
<i style="background:linear-gradient(90deg,#00d5ff 0.5px,#00fffe 16.5px,#00ff55 83.5px,#00ff01 118.5px,#a7ff00 192.5px,#ffff00 234.5px,#ffa100 281.5px)"></i>
<i style="background:linear-gradient(90deg,#00d7ff 0.5px,#00feff 15.5px,#00ff45 89.5px,#01ff00 118.5px,#99ff00 185.5px,#ffff00 233.5px,#ffa000 281.5px)"></i>
<i style="background:linear-gradient(90deg,#00d8ff 0.5px,#00fffe 15.5px,#00ff54 82.5px,#00ff00 117.5px,#9aff00 185.5px,#fffe00 233.5px,#ff9e00 281.5px)"></i>
<i style="background:linear-gradient(90deg,#00d9ff 0.5px,#00ffff 14.5px,#00ff47 87.5px,#01ff00 117.5px,#9aff00 184.5px,#fffe00 232.5px,#ff9c00 281.5px)"></i>
<i style="background:linear-gradient(90deg,#00dbff 0.5px,#00fffe 14.5px,#00ff54 81.5px,#01ff00 116.5px,#99ff00 183.5px,#ffff00 231.5px,#ff9b00 281.5px)"></i>
<i style="background:linear-gradient(90deg,#00dcff 0.5px,#00ffff 13.5px,#00ff4d 83.5px,#00ff00 115.5px,#9fff00 185.5px,#ffff00 230.5px,#ff9900 281.5px)"></i>
<i style="background:linear-gradient(90deg,#00deff 0.5px,#00fffe 13.5px,#00ff53 80.5px,#01ff00 115.5px,#9aff00 182.5px,#feff00 229.5px,#ff9800 281.5px)"></i>
<i style="background:linear-gradient(90deg,#00dfff 0.5px,#00ffff 12.5px,#00ff54 79.5px,#00ff00 114.5px,#99ff00 181.5px,#fffe00 229.5px,#ff9600 281.5px)"></i>
<i style="background:linear-gradient(90deg,#00e1ff 0.5px,#00feff 11.5px,#00ff3c 88.5px,#00ff00 113.5px,#a2ff00 184.5px,#ffff00 228.5px,#ff9400 281.5px)"></i>
<i style="background:linear-gradient(90deg,#00e2ff 0.5px,#00fffe 11.5px,#00ff53 78.5px,#01ff00 113.5px,#9bff00 180.5px,#ffff00 227.5px,#ff9200 281.5px)"></i>
<i style="background:linear-gradient(90deg,#00e4ff 0.5px,#00ffff 10.5px,#00ff48 82.5px,#01ff00 112.5px,#9aff00 179.5px,#ffff00 226.5px,#ff9100 281.5px)"></i>
<i style="background:linear-gradient(90deg,#00e6ff 0.5px,#00fffe 10.5px,#00ff53 77.5px,#00ff00 111.5px,#a0ff00 181.5px,#feff00 225.5px,#ff8f00 281.5px)"></i>
<i style="background:linear-gradient(90deg,#00e7ff 0.5px,#00ffff 9.5px,#00ff53 76.5px,#01ff00 111.5px,#9bff00 178.5px,#fffe00 225.5px,#ff8d00 281.5px)"></i>
<i style="background:linear-gradient(90deg,#00e9ff 0.5px,#00feff 8.5px,#00ff3c 85.5px,#01ff00 110.5px,#9bff00 177.5px,#fffe00 224.5px,#ff8b00 281.5px)"></i>
<i style="background:linear-gradient(90deg,#00eaff 0.5px,#00fffe 8.5px,#00ff53 75.5px,#00ff00 109.5px,#9aff00 176.5px,#ffff00 223.5px,#ff8a00 281.5px)"></i>
<i style="background:linear-gradient(90deg,#00ecff 0.5px,#00ffff 7.5px,#00ff4c 77.5px,#00ff01 108.5px,#a7ff00 181.5px,#ffff00 222.5px,#ff8800 281.5px)"></i>
<i style="background:linear-gradient(90deg,#00eeff 0.5px,#00fffe 7.5px,#00ff52 74.5px,#01ff00 108.5px,#9cff00 175.5px,#ffff00 221.5px,#ff8600 281.5px)"></i>
<i style="background:linear-gradient(90deg,#00f0ff 0.5px,#00fffe 6.5px,#00ff52 73.5px,#01ff00 107.5px,#9bff00 174.5px,#ffff00 220.5px,#ff8400 281.5px)"></i>
<i style="background:linear-gradient(90deg,#00f1ff 0.5px,#00ffff 5.5px,#00ff47 77.5px,#00ff00 106.5px,#9dff00 174.5px,#feff00 219.5px,#ff8200 281.5px)"></i>
<i style="background:linear-gradient(90deg,#00f3ff 0.5px,#00fffe 5.5px,#00ff51 72.5px,#00ff01 105.5px,#aaff00 179.5px,#fffe00 219.5px,#ff8000 281.5px)"></i>
<i style="background:linear-gradient(90deg,#00f5ff 0.5px,#00ffff 4.5px,#00ff52 71.5px,#01ff00 105.5px,#9cff00 172.5px,#fffe00 218.5px,#ff7e00 281.5px)"></i>
<i style="background:linear-gradient(90deg,#00f7ff 0.5px,#00ffff 3.5px,#00ff46 75.5px,#01ff00 104.5px,#9cff00 171.5px,#fffe00 217.5px,#ff7c00 281.5px)"></i>
<i style="background:linear-gradient(90deg,#00f8ff 0.5px,#00fffe 3.5px,#00ff51 70.5px,#00ff00 103.5px,#9cff00 170.5px,#fffe00 216.5px,#ff7a00 281.5px)"></i>
<i style="background:linear-gradient(90deg,#00faff 0.5px,#00fffe 2.5px,#00ff51 69.5px,#00ff00 102.5px,#a4ff00 173.5px,#ffff00 215.5px,#ff7800 281.5px)"></i>
<i style="background:linear-gradient(90deg,#00fcff 0.5px,#00fffd 2.5px,#00ff4f 69.5px,#00ff01 101.5px,#afff00 177.5px,#ffff00 214.5px,#ff7600 281.5px)"></i>
<i style="background:linear-gradient(90deg,#00feff 0.5px,#00ff3a 77.5px,#01ff00 101.5px,#9dff00 168.5px,#ffff00 213.5px,#ff7600 280.5px,#ff7400 281.5px)"></i>
<i style="background:linear-gradient(90deg,#00fffe 0.5px,#00ff51 67.5px,#01ff00 100.5px,#9dff00 167.5px,#ffff00 212.5px,#ff7600 279.5px,#ff7200 281.5px)"></i>
<i style="background:linear-gradient(90deg,#00fffc 0.5px,#00ff4f 67.5px,#00ff00 99.5px,#9dff00 166.5px,#ffff00 211.5px,#ff7600 278.5px,#ff7000 281.5px)"></i>
<i style="background:linear-gradient(90deg,#00fffa 0.5px,#00ff4d 67.5px,#00ff00 98.5px,#a3ff00 168.5px,#ffff00 210.5px,#ff7400 278.5px,#ff6e00 281.5px)"></i>
<i style="background:linear-gradient(90deg,#00fff8 0.5px,#00ff4b 67.5px,#00ff01 97.5px,#acff00 171.5px,#ffff00 209.5px,#ff7400 277.5px,#ff6c00 281.5px)"></i>
<i style="background:linear-gradient(90deg,#00fff6 0.5px,#00ff49 67.5px,#01ff00 97.5px,#9eff00 164.5px,#ffff00 208.5px,#ff7200 277.5px,#ff6a00 281.5px)"></i>
<i style="background:linear-gradient(90deg,#00fff4 0.5px,#00ff47 67.5px,#01ff00 96.5px,#9eff00 163.5px,#ffff00 207.5px,#ff7100 276.5px,#ff6800 281.5px)"></i>
<i style="background:linear-gradient(90deg,#00fff2 0.5px,#00ff44 67.5px,#01ff00 95.5px,#9eff00 162.5px,#ffff00 206.5px,#ff7100 275.5px,#ff6500 281.5px)"></i>
<i style="background:linear-gradient(90deg,#00fff0 0.5px,#00ff42 67.5px,#00ff00 94.5px,#9eff00 161.5px,#ffff00 205.5px,#ff7300 273.5px,#ff6300 281.5px)"></i>
<i style="background:linear-gradient(90deg,#00ffee 0.5px,#00ff40 67.5px,#00ff00 93.5px,#9eff00 160.5px,#ffff00 204.5px,#ff7300 272.5px,#ff6100 281.5px)"></i>
<i style="background:linear-gradient(90deg,#00ffec 0.5px,#00ff3e 67.5px,#00ff00 92.5px,#a4ff00 162.5px,#ffff00 203.5px,#ff7400 270.5px,#ff5f00 281.5px)"></i>
<i style="background:linear-gradient(90deg,#00ffea 0.5px,#00ff3c 67.5px,#00ff00 91.5px,#abff00 164.5px,#ffff00 202.5px,#ff7400 269.5px,#ff5d00 281.5px)"></i>
<i style="background:linear-gradient(90deg,#00ffe8 0.5px,#00ff3a 67.5px,#00ff01 90.5px,#b0ff00 165.5px,#ffff00 201.5px,#ff7400 268.5px,#ff5a00 281.5px)"></i>
<i style="background:linear-gradient(90deg,#00ffe6 0.5px,#00ff38 67.5px,#01ff00 90.5px,#a0ff00 157.5px,#ffff00 200.5px,#ff7400 267.5px,#ff5800 281.5px)"></i>
<i style="background:linear-gradient(90deg,#00ffe3 0.5px,#00ff35 67.5px,#01ff00 89.5px,#a0ff00 156.5px,#ffff00 199.5px,#ff7300 266.5px,#ff5600 281.5px)"></i>
<i style="background:linear-gradient(90deg,#00ffe1 0.5px,#00ff33 67.5px,#01ff00 88.5px,#a0ff00 155.5px,#fffe00 198.5px,#ff7300 265.5px,#ff5300 281.5px)"></i>
<i style="background:linear-gradient(90deg,#00ffdf 0.5px,#00ff31 67.5px,#01ff00 87.5px,#a0ff00 154.5px,#fffe00 197.5px,#ff7200 264.5px,#ff5100 281.5px)"></i>
<i style="background:linear-gradient(90deg,#00ffdd 0.5px,#00ff2f 67.5px,#01ff00 86.5px,#a0ff00 153.5px,#fffe00 196.5px,#ff7200 263.5px,#ff4e00 281.5px)"></i>
<i style="background:linear-gradient(90deg,#00ffda 0.5px,#00ff2c 67.5px,#01ff00 85.5px,#a0ff00 152.5px,#fffe00 195.5px,#ff7200 262.5px,#ff4c00 281.5px)"></i>
<i style="background:linear-gradient(90deg,#00ffd8 0.5px,#00ff2a 67.5px,#00ff00 84.5px,#a0ff00 151.5px,#fffe00 194.5px,#ff7100 261.5px,#ff4a00 281.5px)"></i>
<i style="background:linear-gradient(90deg,#00ffd6 0.5px,#00ff28 67.5px,#00ff00 83.5px,#a0ff00 150.5px,#feff00 192.5px,#ff6500 266.5px,#ff4700 281.5px)"></i>
<i style="background:linear-gradient(90deg,#00ffd4 0.5px,#00ff25 67.5px,#00ff00 82.5px,#a0ff00 149.5px,#ffff00 191.5px,#ff6800 263.5px,#ff4500 281.5px)"></i>
<i style="background:linear-gradient(90deg,#00ffd1 0.5px,#00ff23 67.5px,#00ff00 81.5px,#a0ff00 148.5px,#ffff00 190.5px,#ff6e00 259.5px,#ff4200 281.5px)"></i>
<i style="background:linear-gradient(90deg,#00ffcf 0.5px,#00ff20 67.5px,#00ff00 80.5px,#a0ff00 147.5px,#ffff00 189.5px,#ff7100 256.5px,#ff4000 281.5px)"></i>
<i style="background:linear-gradient(90deg,#00ffcc 0.5px,#00ff1e 67.5px,#00ff00 79.5px,#a3ff00 147.5px,#ffff00 188.5px,#ff7100 255.5px,#ff3d00 281.5px)"></i>
<i style="background:linear-gradient(90deg,#00ffca 0.5px,#00ff1c 67.5px,#00ff00 78.5px,#a3ff00 146.5px,#fffe00 187.5px,#ff7000 254.5px,#ff3a00 281.5px)"></i>
<i style="background:linear-gradient(90deg,#00ffc8 0.5px,#00ff19 67.5px,#00ff00 77.5px,#a3ff00 145.5px,#fffe00 186.5px,#ff7000 253.5px,#ff3800 281.5px)"></i>
<i style="background:linear-gradient(90deg,#00ffc5 0.5px,#00ff17 67.5px,#00ff00 76.5px,#a4ff00 144.5px,#fffe00 185.5px,#ff6f00 252.5px,#ff3500 281.5px)"></i>
<i style="background:linear-gradient(90deg,#00ffc3 0.5px,#00ff14 67.5px,#00ff00 75.5px,#a4ff00 143.5px,#ffff00 183.5px,#ff6700 255.5px,#ff3300 281.5px)"></i>
<i style="background:linear-gradient(90deg,#00ffc0 0.5px,#00ff12 67.5px,#00ff00 74.5px,#a2ff00 141.5px,#ffff00 182.5px,#ff6e00 250.5px,#ff3000 281.5px)"></i>
<i style="background:linear-gradient(90deg,#00ffbe 0.5px,#00ff0f 67.5px,#00ff00 73.5px,#a2ff00 140.5px,#ffff00 181.5px,#ff6f00 248.5px,#ff2d00 281.5px)"></i>
<i style="background:linear-gradient(90deg,#00ffbb 0.5px,#00ff0c 67.5px,#00ff00 72.5px,#a2ff00 139.5px,#fffe00 180.5px,#ff6f00 247.5px,#ff2b00 281.5px)"></i>
<i style="background:linear-gradient(90deg,#00ffb9 0.5px,#00ff0a 67.5px,#00ff00 71.5px,#a3ff00 138.5px,#fffe00 179.5px,#ff6e00 246.5px,#ff2800 281.5px)"></i>
<i style="background:linear-gradient(90deg,#00ffb6 0.5px,#00ff07 67.5px,#00ff00 70.5px,#a3ff00 137.5px,#feff00 177.5px,#ff6300 250.5px,#ff2500 281.5px)"></i>
<i style="background:linear-gradient(90deg,#00ffb3 0.5px,#00ff05 67.5px,#00ff00 69.5px,#a3ff00 136.5px,#ffff00 176.5px,#ff6b00 245.5px,#ff2200 281.5px)"></i>
<i style="background:linear-gradient(90deg,#00ffb1 0.5px,#00ff02 67.5px,#08ff00 71.5px,#abff00 138.5px,#ffff00 175.5px,#ff6e00 242.5px,#ff2000 281.5px)"></i>
<i style="background:linear-gradient(90deg,#00ffae 0.5px,#00ff02 66.5px,#10ff00 73.5px,#b2ff00 140.5px,#fffe00 174.5px,#ff6e00 241.5px,#ff1d00 281.5px)"></i>
<i style="background:linear-gradient(90deg,#00ffab 0.5px,#00ff02 65.5px,#3aff00 89.5px,#daff00 156.5px,#fffe00 173.5px,#ff6d00 240.5px,#ff1a00 281.5px)"></i>
<i style="background:linear-gradient(90deg,#00ffa9 0.5px,#00ff01 64.5px,#c1ff00 144.5px,#ffff00 171.5px,#ff6600 242.5px,#ff1700 281.5px)"></i>
<i style="background:linear-gradient(90deg,#00ffa6 0.5px,#00ff01 63.5px,#bfff00 142.5px,#ffff00 170.5px,#ff6d00 237.5px,#ff1400 281.5px)"></i>
<i style="background:linear-gradient(90deg,#00ffa3 0.5px,#00ff01 62.5px,#bbff00 139.5px,#fffe00 169.5px,#ff6d00 236.5px,#ff1100 281.5px)"></i>
<i style="background:linear-gradient(90deg,#00ffa1 0.5px,#00ff01 61.5px,#b4ff00 135.5px,#fffe00 168.5px,#ff6c00 235.5px,#ff0e00 281.5px)"></i>
<i style="background:linear-gradient(90deg,#00ff9e 0.5px,#00ff00 60.5px,#b0ff00 132.5px,#ffff00 166.5px,#ff6700 236.5px,#ff0b00 281.5px)"></i>
<i style="background:linear-gradient(90deg,#00ff9b 0.5px,#00ff00 59.5px,#a9ff00 128.5px,#ffff00 165.5px,#ff6c00 232.5px,#ff0900 281.5px)"></i>
<i style="background:linear-gradient(90deg,#00ff98 0.5px,#00ff00 58.5px,#a5ff00 125.5px,#fffe00 164.5px,#ff6b00 231.5px,#ff0600 281.5px)"></i>
<i style="background:linear-gradient(90deg,#00ff95 0.5px,#00ff00 57.5px,#a6ff00 124.5px,#feff00 162.5px,#ff5e00 236.5px,#ff0300 281.5px)"></i>
<i style="background:linear-gradient(90deg,#00ff92 0.5px,#01ff00 56.5px,#a6ff00 123.5px,#ffff00 161.5px,#ff6c00 228.5px,#ff0000 281.5px)"></i>
<i style="background:linear-gradient(90deg,#00ff90 0.5px,#00ff01 54.5px,#c6ff00 135.5px,#fffe00 160.5px,#ff6b00 227.5px,#ff0000 279.5px,#ff0000 281.5px)"></i>
<i style="background:linear-gradient(90deg,#00ff8d 0.5px,#00ff01 53.5px,#bfff00 131.5px,#fffe00 159.5px,#ff6a00 226.5px,#ff0000 278.5px,#ff0000 281.5px)"></i>
<i style="background:linear-gradient(90deg,#00ff8a 0.5px,#00ff01 52.5px,#b6ff00 126.5px,#ffff00 157.5px,#ff6700 226.5px,#ff0000 276.5px,#ff0000 281.5px)"></i>
<i style="background:linear-gradient(90deg,#00ff87 0.5px,#00ff00 51.5px,#adff00 121.5px,#fffe00 156.5px,#ff6a00 223.5px,#ff0000 275.5px,#ff0000 281.5px)"></i>
<i style="background:linear-gradient(90deg,#00ff84 0.5px,#00ff00 50.5px,#a7ff00 117.5px,#fffe00 155.5px,#ff6900 222.5px,#ff0000 273.5px,#ff0000 281.5px)"></i>
<i style="background:linear-gradient(90deg,#00ff81 0.5px,#01ff00 49.5px,#a8ff00 116.5px,#ffff00 153.5px,#ff6400 223.5px,#ff0000 272.5px,#ff0000 281.5px)"></i>
<i style="background:linear-gradient(90deg,#00ff7e 0.5px,#01ff00 48.5px,#a8ff00 115.5px,#fffe00 152.5px,#ff6900 219.5px,#ff0000 270.5px,#ff0000 281.5px)"></i>
<i style="background:linear-gradient(90deg,#00ff7b 0.5px,#00ff01 46.5px,#c1ff00 124.5px,#fffe00 151.5px,#ff6800 218.5px,#ff0100 268.5px,#ff0000 281.5px)"></i>
</div>
<svg width="685" height="383" viewBox="0 0 685 383">
<path d="M48.5 236.7 L49.8 236.3 L50.8 236.0 L52.0 235.6 L53.1 235.2 L54.2 234.9 L55.5 234.5 L56.5 234.2 L57.8 233.8 L58.8 233.5 L60.0 233.1 L61.0 232.7 L62.2 232.3 L63.2 232.0 L64.5 231.5 L65.5 231.2 L66.8 230.8 L67.8 230.4 L68.9 230.0 L70.0 229.6 L71.0 229.2 L72.2 228.8 L73.2 228.4 L74.4 228.0 L75.5 227.6 L76.5 227.2 L77.7 226.8 L78.8 226.3 L79.8 225.9 L80.9 225.5 L82.0 225.0 L83.0 224.6 L84.0 224.2 L85.1 223.8 L86.2 223.3 L87.2 222.8 L88.2 222.4 L89.2 222.0 L90.3 221.5 L91.4 221.0 L92.5 220.5 L93.5 220.0 L94.5 219.6 L95.5 219.1 L96.5 218.6 L97.5 218.1 L98.5 217.6 L99.5 217.1 L100.5 216.6 L101.5 216.1 L102.5 215.6 L103.5 215.0 L104.5 214.5 L105.4 214.0 L106.3 213.5 L107.2 213.0 L108.2 212.4 L109.2 211.8 L110.1 211.2 L111.0 210.7 L112.0 210.1 L113.0 209.5 L113.8 209.0 L114.8 208.3 L115.6 207.8 L116.5 207.1 L117.4 206.5 L118.2 205.9 L119.1 205.2 L120.0 204.6 L120.8 204.0 L121.7 203.2 L122.5 202.6 L123.3 202.0 L124.2 201.2 L125.0 200.5 L125.8 199.9 L126.5 199.2 L127.2 198.5 L128.0 197.7 L128.8 197.0 L129.5 196.2 L130.2 195.4 L131.0 194.6 L131.7 193.8 L132.4 193.0 L133.0 192.2 L133.7 191.2 L134.3 190.5 L135.0 189.5 L135.5 188.8 L136.2 187.8 L136.8 186.8 L137.2 185.9 L137.8 185.0 L138.3 184.0 L138.8 183.0 L139.2 181.8 L139.7 180.8 L140.1 179.8 L140.5 178.5 L140.8 177.5 L141.1 176.2 L141.4 175.0 L141.6 173.8 L141.8 172.5 L141.9 171.0 L142.0 169.8 L142.1 168.2 L142.0 166.8 L142.0 165.5 L141.8 164.0 L141.7 162.8 L141.5 161.5 L141.2 160.2 L141.0 159.0 L140.7 157.8 L140.3 156.5 L140.0 155.5 L139.6 154.2 L139.2 153.2 L138.8 152.1 L138.3 151.0 L137.9 150.0 L137.4 149.0 L136.9 148.0 L136.4 147.0 L135.9 146.0 L135.4 145.0 L134.8 144.0 L134.2 143.1 L133.7 142.2 L133.1 141.2 L132.5 140.3 L132.0 139.5 L131.3 138.5 L130.8 137.7 L130.1 136.8 L129.5 136.0 L128.8 135.0 L128.2 134.2 L127.5 133.4 L126.8 132.5 L126.2 131.8 L125.5 130.9 L124.8 130.0 L124.1 129.2 L123.5 128.5 L122.8 127.7 L122.0 126.9 L121.2 126.0 L120.5 125.2 L119.8 124.5 L119.1 123.8 L118.4 123.0 L117.7 122.2 L116.9 121.5 L116.2 120.8 L115.4 120.0 L114.7 119.2 L113.9 118.5 L113.1 117.8 L112.3 117.0 L111.5 116.3 L110.8 115.6 L110.0 114.9 L109.2 114.2 L108.5 113.5 L107.6 112.8 L106.8 112.0 L106.0 111.3 L105.2 110.7 L104.5 110.0 L103.6 109.2 L102.8 108.5 L102.0 107.9 L101.2 107.2 L100.3 106.5 L99.5 105.9 L98.8 105.2 L97.8 104.5 L97.0 103.8 L96.2 103.2 L95.3 102.5 L94.5 101.9 L93.7 101.2 L92.8 100.5 L92.0 99.9 L91.1 99.2 L90.2 98.6 L89.4 98.0 L88.5 97.3 L87.8 96.7 L86.8 96.0 L86.0 95.5 L85.0 94.8 L84.2 94.2 L83.3 93.5 L82.5 92.9 L81.5 92.2 L80.8 91.7 L79.8 91.0 L79.0 90.5 L78.0 89.8 L77.2 89.2 L76.2 88.5 L75.5 88.0 L74.5 87.3 L73.6 86.8 L72.8 86.2 L71.8 85.5 L71.0 85.0 L70.0 84.3 L69.2 83.8 L68.2 83.1 L67.3 82.5 L66.5 82.0 L65.5 81.3 L64.6 80.8 L63.8 80.2 L62.8 79.6 L61.9 79.0 L61.0 78.4 L60.0 77.8 L59.1 77.2 L58.2 76.7 L57.2 76.1 L56.4 75.5 L55.5 75.0 L54.5 74.3 L53.5 73.8 L52.7 73.2 L51.8 72.6 L50.8 72.0 L49.9 71.5 L49.0 71.0 L48.5 70.7" fill="none" stroke="#000" stroke-opacity="0.64" stroke-width="1.15"/>
<path d="M48.5 273.1 L49.8 272.9 L51.0 272.7 L52.2 272.5 L53.6 272.2 L55.0 272.0 L56.2 271.8 L57.5 271.6 L58.8 271.4 L60.0 271.2 L61.2 271.0 L62.5 270.8 L64.0 270.5 L65.2 270.3 L66.5 270.1 L67.8 269.8 L69.0 269.6 L70.2 269.4 L71.5 269.2 L72.8 269.0 L74.0 268.7 L75.2 268.5 L76.6 268.2 L78.0 268.0 L79.2 267.8 L80.5 267.5 L81.8 267.3 L83.0 267.1 L84.2 266.8 L85.5 266.6 L86.8 266.3 L88.0 266.1 L89.2 265.9 L90.5 265.6 L91.8 265.4 L93.0 265.1 L94.2 264.9 L95.5 264.6 L96.8 264.4 L98.0 264.1 L99.2 263.9 L100.5 263.6 L101.8 263.3 L103.0 263.1 L104.2 262.8 L105.5 262.6 L106.8 262.3 L108.0 262.0 L109.2 261.8 L110.4 261.5 L111.6 261.2 L112.8 261.0 L114.0 260.7 L115.2 260.4 L116.5 260.1 L117.8 259.9 L119.0 259.6 L120.2 259.3 L121.5 259.0 L122.6 258.8 L123.8 258.5 L125.0 258.2 L126.2 257.9 L127.5 257.6 L128.8 257.3 L129.9 257.0 L131.0 256.7 L132.2 256.4 L133.5 256.1 L134.8 255.8 L135.9 255.5 L137.0 255.2 L138.2 254.9 L139.5 254.6 L140.7 254.2 L141.8 254.0 L143.0 253.6 L144.2 253.3 L145.4 253.0 L146.5 252.7 L147.8 252.4 L149.0 252.0 L150.0 251.7 L151.2 251.4 L152.5 251.0 L153.5 250.7 L154.8 250.4 L156.0 250.0 L157.0 249.7 L158.2 249.3 L159.4 249.0 L160.5 248.7 L161.8 248.3 L162.8 248.0 L164.0 247.6 L165.0 247.2 L166.2 246.9 L167.4 246.5 L168.5 246.1 L169.7 245.8 L170.8 245.4 L171.9 245.0 L173.0 244.6 L174.1 244.2 L175.2 243.9 L176.3 243.5 L177.5 243.1 L178.5 242.7 L179.8 242.3 L180.8 241.9 L181.9 241.5 L183.0 241.1 L184.0 240.7 L185.2 240.2 L186.2 239.8 L187.2 239.4 L188.4 239.0 L189.5 238.6 L190.5 238.1 L191.5 237.7 L192.7 237.2 L193.8 236.8 L194.8 236.4 L195.8 235.9 L196.8 235.5 L197.9 235.0 L199.0 234.5 L200.0 234.0 L201.0 233.6 L202.0 233.1 L203.0 232.6 L204.0 232.2 L205.0 231.7 L206.0 231.2 L207.0 230.7 L208.0 230.2 L209.0 229.6 L210.0 229.1 L211.0 228.6 L212.0 228.0 L213.0 227.5 L213.8 227.0 L214.8 226.5 L215.8 225.9 L216.8 225.3 L217.6 224.8 L218.5 224.2 L219.5 223.6 L220.4 223.0 L221.2 222.4 L222.2 221.8 L223.0 221.2 L224.0 220.6 L224.8 220.0 L225.8 219.3 L226.5 218.7 L227.4 218.0 L228.2 217.3 L229.0 216.7 L229.9 216.0 L230.8 215.3 L231.5 214.6 L232.2 213.9 L233.0 213.2 L233.8 212.5 L234.5 211.8 L235.2 211.0 L236.0 210.2 L236.8 209.4 L237.5 208.5 L238.1 207.8 L238.8 207.0 L239.5 206.0 L240.0 205.2 L240.7 204.2 L241.2 203.5 L241.9 202.5 L242.5 201.5 L243.0 200.5 L243.5 199.6 L244.0 198.6 L244.5 197.5 L244.9 196.5 L245.3 195.5 L245.7 194.2 L246.0 193.2 L246.3 192.0 L246.6 190.8 L246.8 189.5 L247.0 188.2 L247.1 186.8 L247.2 185.2 L247.2 183.8 L247.2 182.2 L247.1 180.8 L246.9 179.5 L246.7 178.2 L246.5 177.0 L246.2 175.8 L245.9 174.5 L245.6 173.2 L245.2 172.2 L244.8 171.0 L244.5 170.0 L244.0 168.8 L243.6 167.8 L243.1 166.8 L242.6 165.8 L242.1 164.8 L241.6 163.8 L241.1 162.8 L240.5 161.8 L240.0 160.8 L239.5 160.0 L238.9 159.0 L238.2 158.0 L237.8 157.2 L237.1 156.2 L236.5 155.4 L235.8 154.5 L235.2 153.7 L234.5 152.8 L234.0 152.0 L233.2 151.1 L232.6 150.2 L232.0 149.5 L231.2 148.6 L230.5 147.8 L229.9 147.0 L229.2 146.2 L228.5 145.5 L227.8 144.6 L227.0 143.8 L226.2 143.0 L225.5 142.2 L224.8 141.5 L224.1 140.8 L223.3 140.0 L222.6 139.2 L221.8 138.5 L221.1 137.8 L220.3 137.0 L219.5 136.3 L218.8 135.6 L218.0 134.9 L217.2 134.2 L216.5 133.5 L215.7 132.8 L214.9 132.0 L214.0 131.2 L213.2 130.6 L212.5 129.9 L211.7 129.2 L210.8 128.5 L210.0 127.8 L209.2 127.2 L208.4 126.5 L207.5 125.8 L206.8 125.1 L206.0 124.5 L205.0 123.8 L204.2 123.1 L203.5 122.5 L202.5 121.8 L201.8 121.2 L200.9 120.5 L200.0 119.8 L199.2 119.2 L198.3 118.5 L197.5 117.9 L196.6 117.2 L195.8 116.6 L194.9 116.0 L194.0 115.3 L193.2 114.8 L192.2 114.0 L191.5 113.5 L190.5 112.8 L189.7 112.2 L188.8 111.5 L188.0 111.0 L187.0 110.3 L186.2 109.8 L185.2 109.1 L184.4 108.5 L183.5 107.9 L182.5 107.2 L181.8 106.7 L180.8 106.0 L180.0 105.5 L179.0 104.9 L178.1 104.2 L177.2 103.7 L176.2 103.0 L175.4 102.5 L174.5 101.9 L173.5 101.2 L172.7 100.8 L171.8 100.1 L170.8 99.5 L170.0 99.0 L169.0 98.4 L168.0 97.8 L167.2 97.2 L166.2 96.6 L165.2 96.0 L164.4 95.5 L163.5 94.9 L162.5 94.3 L161.6 93.8 L160.8 93.2 L159.8 92.6 L158.8 92.0 L157.9 91.5 L157.0 90.9 L156.0 90.3 L155.0 89.8 L154.2 89.2 L153.2 88.7 L152.2 88.1 L151.2 87.5 L150.4 87.0 L149.5 86.5 L148.5 85.9 L147.5 85.3 L146.5 84.8 L145.7 84.2 L144.8 83.7 L143.8 83.1 L142.8 82.6 L141.8 82.0 L140.9 81.5 L140.0 81.0 L139.0 80.4 L138.0 79.9 L137.0 79.3 L136.0 78.8 L135.2 78.2 L134.2 77.7 L133.2 77.2 L132.2 76.6 L131.2 76.1 L130.2 75.5 L129.3 75.0 L128.4 74.5 L127.5 74.0 L126.5 73.5 L125.5 72.9 L124.5 72.4 L123.5 71.8 L122.5 71.3 L121.5 70.8 L120.6 70.2 L119.7 69.8 L118.7 69.2 L117.8 68.7 L116.8 68.2 L115.8 67.7 L114.8 67.1 L113.8 66.6 L112.8 66.1 L111.8 65.5 L110.8 65.0 L109.8 64.5 L108.8 64.0 L107.9 63.5 L106.9 63.0 L105.9 62.5 L105.0 62.0 L104.0 61.5 L103.0 61.0 L102.0 60.5 L101.0 59.9 L100.0 59.4 L99.0 58.9 L98.0 58.4 L97.0 57.9 L96.0 57.4 L95.0 56.9 L94.0 56.4 L93.0 55.9 L92.0 55.4 L91.0 54.9 L90.0 54.4 L89.0 53.9 L88.0 53.4 L87.0 52.9 L86.0 52.4 L85.0 51.9 L84.0 51.4 L83.0 50.9 L82.0 50.4 L81.0 49.9 L80.0 49.4 L79.0 48.9 L78.0 48.4 L77.0 47.9 L76.0 47.4 L75.0 46.9 L74.0 46.4 L73.0 45.9 L72.0 45.5 L71.0 45.0 L70.0 44.5 L69.0 44.0 L68.0 43.5 L66.9 43.0 L65.9 42.5 L64.9 42.0 L63.8 41.5 L62.8 41.0 L61.8 40.5 L60.8 40.0 L59.8 39.6 L58.8 39.1 L57.8 38.6 L56.8 38.1 L55.8 37.7 L54.8 37.2 L53.8 36.7 L52.8 36.2 L51.7 35.8 L50.7 35.2 L49.6 34.8 L48.5 34.2 L48.5 34.2" fill="none" stroke="#000" stroke-opacity="0.64" stroke-width="1.15"/>
<path d="M332.5 156.2 L331.7 155.5 L330.9 154.8 L330.1 154.0 L329.3 153.2 L328.5 152.6 L327.8 151.9 L327.0 151.2 L326.2 150.5 L325.3 149.8 L324.5 149.1 L323.8 148.4 L322.9 147.8 L322.0 147.0 L321.2 146.4 L320.5 145.7 L319.6 145.0 L318.8 144.3 L318.0 143.7 L317.1 143.0 L316.2 142.4 L315.5 141.8 L314.5 141.0 L313.8 140.4 L312.9 139.8 L312.0 139.1 L311.2 138.5 L310.2 137.8 L309.5 137.2 L308.5 136.5 L307.8 136.0 L306.8 135.2 L306.0 134.7 L305.0 134.0 L304.2 133.4 L303.3 132.8 L302.5 132.2 L301.5 131.5 L300.8 131.0 L299.8 130.3 L299.0 129.8 L298.0 129.1 L297.1 128.5 L296.2 127.9 L295.3 127.2 L294.5 126.7 L293.5 126.1 L292.6 125.5 L291.8 124.9 L290.8 124.3 L290.0 123.8 L289.0 123.1 L288.1 122.5 L287.2 122.0 L286.2 121.3 L285.3 120.8 L284.5 120.2 L283.5 119.6 L282.6 119.0 L281.8 118.5 L280.8 117.9 L279.8 117.3 L278.9 116.8 L278.0 116.2 L277.0 115.6 L276.1 115.0 L275.2 114.5 L274.2 113.9 L273.2 113.3 L272.4 112.8 L271.5 112.2 L270.5 111.6 L269.5 111.0 L268.6 110.5 L267.8 110.0 L266.8 109.4 L265.8 108.8 L264.8 108.2 L263.9 107.8 L263.0 107.2 L262.0 106.6 L261.0 106.1 L260.0 105.5 L259.1 105.0 L258.2 104.5 L257.2 103.9 L256.2 103.4 L255.2 102.8 L254.3 102.2 L253.4 101.8 L252.5 101.2 L251.5 100.7 L250.5 100.1 L249.5 99.6 L248.5 99.0 L247.6 98.5 L246.7 98.0 L245.8 97.5 L244.8 97.0 L243.8 96.4 L242.8 95.9 L241.8 95.3 L240.8 94.8 L239.8 94.2 L238.8 93.8 L237.9 93.2 L237.0 92.8 L236.0 92.2 L235.0 91.7 L234.0 91.2 L233.0 90.6 L232.0 90.1 L231.0 89.6 L230.0 89.0 L229.0 88.5 L228.0 88.0 L227.0 87.5 L226.1 87.0 L225.1 86.5 L224.2 86.0 L223.2 85.5 L222.2 85.0 L221.2 84.5 L220.2 84.0 L219.2 83.5 L218.2 83.0 L217.2 82.4 L216.2 81.9 L215.2 81.4 L214.2 80.9 L213.2 80.4 L212.2 79.9 L211.2 79.4 L210.2 78.9 L209.2 78.4 L208.2 77.9 L207.2 77.4 L206.2 76.9 L205.2 76.4 L204.2 75.9 L203.2 75.4 L202.2 74.9 L201.2 74.4 L200.2 73.9 L199.2 73.4 L198.2 72.9 L197.2 72.4 L196.2 72.0 L195.2 71.5 L194.2 71.0 L193.2 70.5 L192.2 70.0 L191.2 69.5 L190.2 69.0 L189.1 68.5 L188.1 68.0 L187.1 67.5 L186.0 67.0 L185.0 66.5 L184.0 66.0 L183.0 65.6 L182.0 65.1 L181.0 64.6 L180.0 64.1 L179.0 63.6 L178.0 63.2 L177.0 62.7 L176.0 62.2 L175.0 61.8 L173.9 61.2 L172.9 60.8 L171.8 60.2 L170.8 59.8 L169.8 59.3 L168.8 58.8 L167.8 58.4 L166.8 57.9 L165.8 57.4 L164.8 57.0 L163.8 56.5 L162.7 56.0 L161.6 55.5 L160.5 55.0 L159.5 54.5 L158.5 54.1 L157.5 53.6 L156.5 53.2 L155.5 52.7 L154.5 52.2 L153.4 51.8 L152.3 51.2 L151.2 50.8 L150.2 50.3 L149.2 49.8 L148.2 49.4 L147.2 48.9 L146.2 48.5 L145.2 48.0 L144.1 47.5 L143.0 47.0 L142.0 46.6 L141.0 46.1 L140.0 45.7 L139.0 45.2 L137.9 44.8 L136.8 44.2 L135.8 43.8 L134.8 43.3 L133.8 42.9 L132.8 42.4 L131.8 42.0 L130.7 41.5 L129.5 41.0 L128.5 40.5 L127.5 40.1 L126.5 39.7 L125.5 39.2 L124.4 38.8 L123.3 38.2 L122.2 37.8 L121.2 37.4 L120.2 36.9 L119.2 36.5 L118.2 36.0 L117.0 35.5 L116.0 35.1 L115.0 34.6 L114.0 34.2 L113.0 33.8 L111.8 33.2 L110.8 32.8 L109.8 32.3 L108.8 31.9 L107.8 31.5 L106.7 31.0 L105.5 30.5 L104.5 30.1 L103.5 29.6 L102.5 29.2 L101.4 28.8 L100.3 28.2 L99.2 27.8 L98.2 27.4 L97.2 27.0 L96.2 26.5 L95.0 26.0 L94.0 25.6 L93.0 25.1 L92.0 24.7 L90.9 24.2 L89.8 23.8 L88.8 23.3 L87.8 22.9 L86.8 22.5 L85.6 22.0 L84.5 21.5 L83.5 21.1 L82.5 20.7 L81.4 20.2 L80.3 19.8 L79.2 19.3 L78.2 18.9 L77.2 18.5 L76.1 18.0 L75.0 17.5 L74.0 17.1 L73.0 16.7 L71.9 16.2 L70.8 15.8 L69.8 15.4 L68.8 14.9 L67.7 14.5 L67.7 14.5" fill="none" stroke="#000" stroke-opacity="0.64" stroke-width="1.15"/>
<path d="M72.0 298.2 L73.5 298.1 L74.8 297.9 L76.2 297.8 L77.5 297.6 L78.8 297.5 L80.2 297.3 L81.5 297.2 L83.0 297.0 L84.2 296.9 L85.5 296.7 L87.0 296.5 L88.2 296.4 L89.6 296.2 L91.0 296.1 L92.2 295.9 L93.8 295.8 L95.0 295.6 L96.2 295.5 L97.8 295.3 L99.0 295.1 L100.2 295.0 L101.8 294.8 L103.0 294.6 L104.2 294.5 L105.8 294.3 L107.0 294.1 L108.2 294.0 L109.8 293.8 L111.0 293.6 L112.2 293.5 L113.8 293.3 L115.0 293.1 L116.2 293.0 L117.8 292.8 L119.0 292.6 L120.2 292.4 L121.7 292.2 L123.0 292.1 L124.2 291.9 L125.5 291.8 L127.0 291.5 L128.2 291.4 L129.5 291.2 L131.0 291.0 L132.2 290.8 L133.5 290.7 L134.8 290.5 L136.2 290.3 L137.5 290.1 L138.8 289.9 L140.0 289.8 L141.5 289.5 L142.8 289.4 L144.0 289.2 L145.3 289.0 L146.8 288.8 L148.0 288.6 L149.2 288.4 L150.5 288.2 L152.0 288.0 L153.2 287.8 L154.5 287.6 L155.8 287.5 L157.1 287.2 L158.5 287.0 L159.8 286.8 L161.0 286.7 L162.2 286.5 L163.6 286.2 L165.0 286.0 L166.2 285.8 L167.5 285.6 L168.8 285.4 L170.0 285.2 L171.4 285.0 L172.8 284.8 L174.0 284.6 L175.2 284.4 L176.5 284.2 L177.8 284.0 L179.0 283.8 L180.5 283.5 L181.8 283.3 L183.0 283.1 L184.2 282.9 L185.5 282.7 L186.8 282.4 L188.0 282.2 L189.2 282.0 L190.7 281.8 L192.0 281.5 L193.2 281.3 L194.5 281.1 L195.8 280.8 L197.0 280.6 L198.2 280.4 L199.5 280.1 L200.8 279.9 L202.0 279.7 L203.2 279.4 L204.5 279.2 L205.8 279.0 L207.0 278.7 L208.2 278.5 L209.5 278.2 L210.8 278.0 L212.1 277.8 L213.3 277.5 L214.6 277.2 L215.8 277.0 L217.1 276.8 L218.3 276.5 L219.5 276.2 L220.8 276.0 L222.0 275.7 L223.2 275.5 L224.5 275.2 L225.8 274.9 L227.0 274.7 L228.2 274.4 L229.5 274.1 L230.8 273.9 L232.0 273.6 L233.2 273.3 L234.5 273.0 L235.7 272.8 L236.8 272.5 L238.0 272.2 L239.2 271.9 L240.5 271.7 L241.8 271.4 L243.0 271.1 L244.2 270.8 L245.4 270.5 L246.5 270.2 L247.8 269.9 L249.0 269.6 L250.2 269.3 L251.5 269.0 L252.5 268.7 L253.8 268.4 L255.0 268.1 L256.2 267.8 L257.3 267.5 L258.5 267.2 L259.8 266.9 L261.0 266.5 L262.0 266.2 L263.2 265.9 L264.5 265.6 L265.7 265.2 L266.8 264.9 L268.0 264.6 L269.2 264.2 L270.2 263.9 L271.5 263.6 L272.7 263.2 L273.8 262.9 L275.0 262.6 L276.0 262.2 L277.2 261.9 L278.5 261.5 L279.5 261.2 L280.8 260.8 L281.8 260.5 L283.0 260.1 L284.0 259.7 L285.2 259.3 L286.3 259.0 L287.5 258.6 L288.5 258.2 L289.8 257.8 L290.8 257.5 L292.0 257.0 L293.0 256.7 L294.2 256.2 L295.2 255.9 L296.3 255.5 L297.5 255.0 L298.5 254.7 L299.6 254.2 L300.8 253.8 L301.8 253.4 L302.8 253.0 L304.0 252.5 L305.0 252.1 L306.0 251.7 L307.1 251.2 L308.2 250.8 L309.2 250.4 L310.2 249.9 L311.2 249.5 L312.3 249.0 L313.4 248.5 L314.5 248.0 L315.5 247.6 L316.5 247.1 L317.5 246.6 L318.5 246.1 L319.5 245.6 L320.5 245.1 L321.5 244.6 L322.5 244.1 L323.5 243.6 L324.5 243.0 L325.4 242.5 L326.3 242.0 L327.2 241.5 L328.2 240.9 L329.2 240.3 L330.2 239.8 L331.0 239.2 L332.0 238.6 L332.5 238.3" fill="none" stroke="#000" stroke-opacity="0.64" stroke-width="1.15"/>
<path d="M332.5 102.1 L331.5 101.6 L330.5 101.1 L329.5 100.6 L328.5 100.1 L327.5 99.6 L326.5 99.2 L325.5 98.7 L324.5 98.2 L323.5 97.7 L322.5 97.2 L321.5 96.7 L320.5 96.2 L319.5 95.7 L318.5 95.2 L317.4 94.8 L316.4 94.2 L315.4 93.8 L314.3 93.2 L313.3 92.8 L312.2 92.3 L311.2 91.8 L310.2 91.3 L309.2 90.8 L308.2 90.4 L307.2 89.9 L306.2 89.4 L305.2 88.9 L304.2 88.5 L303.2 88.0 L302.2 87.5 L301.1 87.0 L300.0 86.5 L299.0 86.0 L298.0 85.5 L297.0 85.1 L296.0 84.6 L295.0 84.2 L294.0 83.7 L293.0 83.2 L292.0 82.8 L290.9 82.2 L289.8 81.8 L288.8 81.3 L287.8 80.8 L286.8 80.4 L285.8 79.9 L284.8 79.4 L283.8 79.0 L282.7 78.5 L281.6 78.0 L280.5 77.5 L279.5 77.1 L278.5 76.6 L277.5 76.2 L276.5 75.7 L275.5 75.2 L274.4 74.8 L273.3 74.2 L272.2 73.8 L271.2 73.3 L270.2 72.9 L269.2 72.4 L268.2 72.0 L267.1 71.5 L266.0 71.0 L265.0 70.6 L264.0 70.1 L263.0 69.7 L262.0 69.2 L260.9 68.8 L259.8 68.2 L258.8 67.8 L257.8 67.3 L256.8 66.9 L255.8 66.5 L254.7 66.0 L253.5 65.5 L252.5 65.0 L251.5 64.6 L250.5 64.2 L249.5 63.7 L248.4 63.2 L247.2 62.8 L246.2 62.3 L245.2 61.9 L244.2 61.5 L243.2 61.0 L242.0 60.5 L241.0 60.1 L240.0 59.6 L239.0 59.2 L238.0 58.8 L236.8 58.2 L235.8 57.8 L234.8 57.4 L233.8 56.9 L232.7 56.5 L231.6 56.0 L230.5 55.5 L229.5 55.1 L228.5 54.7 L227.5 54.2 L226.3 53.8 L225.2 53.3 L224.2 52.9 L223.2 52.5 L222.2 52.0 L221.0 51.5 L220.0 51.1 L219.0 50.7 L218.0 50.2 L216.8 49.8 L215.8 49.3 L214.8 48.9 L213.8 48.5 L212.6 48.0 L211.5 47.5 L210.5 47.1 L209.5 46.7 L208.5 46.2 L207.3 45.8 L206.2 45.3 L205.2 44.9 L204.2 44.5 L203.1 44.0 L202.0 43.6 L201.0 43.1 L200.0 42.7 L198.8 42.2 L197.8 41.8 L196.8 41.4 L195.8 41.0 L194.6 40.5 L193.5 40.0 L192.5 39.6 L191.5 39.2 L190.3 38.8 L189.2 38.3 L188.2 37.9 L187.2 37.5 L186.1 37.0 L185.0 36.6 L184.0 36.2 L183.0 35.7 L181.8 35.2 L180.8 34.8 L179.8 34.4 L178.7 34.0 L177.5 33.5 L176.5 33.1 L175.5 32.7 L174.4 32.2 L173.2 31.8 L172.2 31.4 L171.2 31.0 L170.1 30.5 L169.0 30.1 L168.0 29.7 L167.0 29.2 L165.8 28.8 L164.8 28.4 L163.8 28.0 L162.6 27.5 L161.5 27.0 L160.5 26.6 L159.5 26.2 L158.3 25.8 L157.2 25.3 L156.2 24.9 L155.1 24.5 L154.0 24.0 L153.0 23.6 L152.0 23.2 L150.8 22.8 L149.8 22.4 L148.8 22.0 L147.6 21.5 L146.5 21.1 L145.5 20.7 L144.4 20.2 L143.2 19.8 L142.2 19.4 L141.2 19.0 L140.0 18.5 L139.0 18.1 L138.0 17.7 L136.9 17.2 L135.8 16.8 L134.8 16.4 L133.7 16.0 L132.5 15.5 L131.5 15.1 L130.5 14.8 L129.9 14.5" fill="none" stroke="#000" stroke-opacity="0.64" stroke-width="1.15"/>
<path d="M299.0 298.2 L300.2 298.0 L301.5 297.8 L302.8 297.6 L304.0 297.4 L305.2 297.2 L306.7 297.0 L308.0 296.8 L309.2 296.6 L310.5 296.4 L311.8 296.2 L313.0 295.9 L314.2 295.7 L315.6 295.5 L317.0 295.2 L318.2 295.0 L319.5 294.8 L320.8 294.6 L322.0 294.4 L323.2 294.1 L324.5 293.9 L325.8 293.7 L327.0 293.5 L328.2 293.2 L329.5 293.0 L330.8 292.8 L332.2 292.5 L332.5 292.4" fill="none" stroke="#000" stroke-opacity="0.64" stroke-width="1.15"/>
<path d="M332.5 69.1 L331.5 68.7 L330.4 68.2 L329.2 67.8 L328.2 67.4 L327.2 67.0 L326.1 66.5 L325.0 66.1 L324.0 65.6 L323.0 65.2 L321.8 64.8 L320.8 64.3 L319.8 63.9 L318.7 63.5 L317.5 63.0 L316.5 62.6 L315.5 62.2 L314.3 61.8 L313.2 61.3 L312.2 60.9 L311.2 60.5 L310.0 60.0 L309.0 59.6 L308.0 59.2 L306.8 58.8 L305.8 58.3 L304.8 57.9 L303.7 57.5 L302.5 57.0 L301.5 56.6 L300.5 56.2 L299.3 55.8 L298.2 55.3 L297.2 54.9 L296.2 54.5 L295.0 54.0 L294.0 53.6 L293.0 53.2 L291.8 52.8 L290.8 52.4 L289.8 52.0 L288.6 51.5 L287.5 51.1 L286.5 50.7 L285.4 50.2 L284.2 49.8 L283.2 49.4 L282.2 49.0 L281.0 48.5 L280.0 48.1 L279.0 47.7 L277.8 47.3 L276.8 46.9 L275.8 46.5 L274.5 46.0 L273.5 45.6 L272.5 45.2 L271.3 44.8 L270.2 44.3 L269.2 43.9 L268.1 43.5 L267.0 43.1 L266.0 42.7 L264.9 42.2 L263.8 41.8 L262.8 41.4 L261.6 41.0 L260.5 40.6 L259.5 40.2 L258.4 39.8 L257.2 39.3 L256.2 38.9 L255.2 38.5 L254.0 38.1 L253.0 37.7 L251.9 37.2 L250.8 36.8 L249.8 36.4 L248.6 36.0 L247.5 35.6 L246.5 35.2 L245.4 34.8 L244.2 34.3 L243.2 33.9 L242.1 33.5 L241.0 33.1 L240.0 32.7 L238.8 32.2 L237.8 31.8 L236.8 31.5 L235.6 31.0 L234.5 30.6 L233.5 30.2 L232.3 29.8 L231.2 29.4 L230.2 29.0 L229.0 28.5 L228.0 28.1 L227.0 27.8 L225.8 27.3 L224.8 26.9 L223.7 26.5 L222.5 26.1 L221.5 25.7 L220.4 25.2 L219.2 24.8 L218.2 24.5 L217.0 24.0 L216.0 23.6 L215.0 23.2 L213.8 22.8 L212.8 22.4 L211.7 22.0 L210.5 21.5 L209.5 21.2 L208.4 20.8 L207.2 20.3 L206.2 19.9 L205.1 19.5 L204.0 19.1 L203.0 18.7 L201.8 18.3 L200.8 17.9 L199.7 17.5 L198.5 17.1 L197.5 16.7 L196.3 16.2 L195.2 15.8 L194.2 15.5 L193.0 15.0 L192.0 14.6 L191.6 14.5" fill="none" stroke="#000" stroke-opacity="0.64" stroke-width="1.15"/>
<path d="M332.5 43.0 L331.2 42.5 L330.2 42.2 L329.1 41.8 L328.0 41.4 L327.0 41.0 L325.8 40.5 L324.8 40.2 L323.6 39.8 L322.5 39.4 L321.5 39.0 L320.2 38.5 L319.2 38.2 L318.1 37.8 L317.0 37.4 L316.0 37.0 L314.8 36.5 L313.8 36.2 L312.5 35.8 L311.5 35.4 L310.5 35.0 L309.2 34.6 L308.2 34.2 L307.0 33.8 L306.0 33.4 L304.9 33.0 L303.8 32.6 L302.8 32.2 L301.5 31.8 L300.5 31.4 L299.4 31.0 L298.2 30.6 L297.2 30.2 L296.0 29.8 L295.0 29.4 L293.8 29.0 L292.8 28.6 L291.7 28.2 L290.5 27.8 L289.5 27.5 L288.2 27.0 L287.2 26.7 L286.1 26.2 L285.0 25.8 L284.0 25.5 L282.8 25.0 L281.8 24.7 L280.5 24.2 L279.5 23.9 L278.4 23.5 L277.2 23.1 L276.2 22.7 L275.0 22.3 L274.0 21.9 L272.8 21.5 L271.8 21.1 L270.7 20.8 L269.5 20.3 L268.5 20.0 L267.2 19.5 L266.2 19.2 L265.1 18.8 L264.0 18.4 L262.9 18.0 L261.8 17.6 L260.8 17.2 L259.5 16.8 L258.5 16.4 L257.3 16.0 L256.2 15.6 L255.2 15.2 L254.0 14.8 L253.0 14.5" fill="none" stroke="#000" stroke-opacity="0.64" stroke-width="1.15"/>
<path d="M332.5 20.7 L331.2 20.3 L330.2 20.0 L329.0 19.5 L328.0 19.2 L326.8 18.8 L325.8 18.4 L324.5 18.0 L323.5 17.7 L322.2 17.3 L321.2 16.9 L320.0 16.5 L319.0 16.2 L317.8 15.8 L316.8 15.4 L315.6 15.0 L314.5 14.6 L314.1 14.5" fill="none" stroke="#000" stroke-opacity="0.64" stroke-width="1.15"/>
<path d="M396.3 294.6 L397.0 293.9 L397.8 293.2 L398.6 292.5 L399.4 291.8 L400.2 291.0 L401.0 290.2 L401.8 289.5 L402.5 288.8 L403.3 288.1 L404.0 287.4 L404.8 286.7 L405.5 286.0 L406.3 285.2 L407.1 284.5 L407.8 283.8 L408.6 283.0 L409.4 282.2 L410.1 281.5 L410.9 280.8 L411.7 280.0 L412.4 279.2 L413.2 278.5 L413.9 277.8 L414.6 277.0 L415.4 276.2 L416.1 275.5 L416.8 274.8 L417.6 274.0 L418.3 273.2 L419.0 272.5 L419.8 271.7 L420.5 270.9 L421.3 270.1 L422.0 269.3 L422.8 268.5 L423.5 267.8 L424.2 267.0 L424.9 266.2 L425.5 265.5 L426.3 264.7 L427.0 263.8 L427.8 263.0 L428.5 262.2 L429.1 261.5 L429.8 260.7 L430.5 259.9 L431.3 259.0 L431.9 258.2 L432.6 257.5 L433.3 256.7 L434.0 255.8 L434.7 255.0 L435.3 254.2 L436.0 253.4 L436.8 252.5 L437.4 251.8 L438.0 250.9 L438.8 250.0 L439.4 249.2 L440.0 248.4 L440.7 247.5 L441.3 246.8 L442.0 245.8 L442.7 245.0 L443.3 244.2 L444.0 243.2 L444.6 242.5 L445.3 241.5 L445.8 240.8 L446.5 239.8 L447.1 239.0 L447.8 238.0 L448.4 237.2 L449.0 236.3 L449.6 235.5 L450.3 234.5 L450.8 233.7 L451.4 232.8 L452.0 231.8 L452.6 231.0 L453.3 230.0 L453.8 229.2 L454.4 228.2 L455.0 227.2 L455.5 226.4 L456.1 225.5 L456.7 224.5 L457.3 223.5 L457.8 222.7 L458.4 221.8 L458.9 220.8 L459.5 219.8 L460.0 218.8 L460.5 217.9 L461.0 217.0 L461.6 216.0 L462.1 215.0 L462.7 214.0 L463.2 213.0 L463.7 212.0 L464.2 211.0 L464.7 210.0 L465.2 209.0 L465.7 208.0 L466.1 207.0 L466.6 206.0 L467.0 205.0 L467.5 203.9 L468.0 202.8 L468.5 201.8 L468.9 200.8 L469.3 199.7 L469.8 198.5 L470.2 197.5 L470.6 196.5 L471.0 195.2 L471.4 194.2 L471.8 193.2 L472.2 192.0 L472.5 191.0 L473.0 189.8 L473.3 188.7 L473.7 187.5 L474.0 186.2 L474.3 185.2 L474.7 184.0 L475.0 182.8 L475.3 181.7 L475.6 180.5 L475.9 179.2 L476.2 178.0 L476.5 176.8 L476.7 175.5 L477.0 174.2 L477.2 173.0 L477.4 171.8 L477.6 170.5 L477.8 169.2 L478.0 167.8 L478.2 166.5 L478.4 165.2 L478.5 163.8 L478.7 162.5 L478.8 161.0 L478.9 159.8 L479.0 158.2 L479.0 156.8 L479.1 155.5 L479.1 154.0 L479.1 152.5 L479.1 151.0 L479.1 149.5 L479.1 148.0 L479.0 146.8 L478.9 145.2 L478.8 143.8 L478.7 142.5 L478.6 141.0 L478.5 139.8 L478.3 138.3 L478.1 137.0 L478.0 135.8 L477.8 134.5 L477.5 133.1 L477.3 131.8 L477.1 130.5 L476.8 129.2 L476.6 128.0 L476.3 126.8 L476.0 125.6 L475.8 124.5 L475.5 123.2 L475.1 122.0 L474.8 120.8 L474.5 119.8 L474.2 118.5 L473.8 117.3 L473.5 116.2 L473.1 115.0 L472.7 114.0 L472.3 112.8 L472.0 111.8 L471.5 110.6 L471.1 109.5 L470.7 108.5 L470.3 107.4 L469.9 106.2 L469.4 105.2 L469.0 104.2 L468.5 103.1 L468.1 102.0 L467.6 101.0 L467.2 100.0 L466.7 99.0 L466.2 98.0 L465.7 97.0 L465.2 96.0 L464.7 95.0 L464.2 94.0 L463.7 93.0 L463.2 92.0 L462.7 91.0 L462.1 90.0 L461.6 89.0 L461.0 88.1 L460.5 87.2 L460.0 86.2 L459.4 85.2 L458.8 84.2 L458.3 83.4 L457.8 82.5 L457.2 81.5 L456.5 80.5 L456.0 79.7 L455.4 78.8 L454.8 77.8 L454.3 77.0 L453.6 76.0 L453.0 75.2 L452.4 74.2 L451.8 73.3 L451.2 72.5 L450.5 71.6 L450.0 70.8 L449.3 69.8 L448.7 69.0 L448.0 68.1 L447.4 67.2 L446.8 66.4 L446.1 65.5 L445.5 64.7 L444.8 63.8 L444.2 63.0 L443.5 62.2 L442.8 61.2 L442.2 60.5 L441.5 59.6 L440.8 58.8 L440.2 58.0 L439.5 57.2 L438.8 56.3 L438.1 55.5 L437.5 54.8 L436.8 53.9 L436.0 53.0 L435.4 52.2 L434.7 51.5 L434.0 50.7 L433.3 49.9 L432.5 49.1 L431.8 48.2 L431.2 47.5 L430.5 46.8 L429.8 46.0 L429.0 45.2 L428.3 44.4 L427.5 43.6 L426.8 42.8 L426.1 42.0 L425.3 41.2 L424.6 40.5 L423.9 39.8 L423.2 39.0 L422.4 38.2 L421.7 37.5 L421.0 36.8 L420.2 36.0 L419.5 35.2 L418.7 34.5 L417.9 33.8 L417.2 33.0 L416.4 32.2 L415.6 31.5 L414.9 30.8 L414.1 30.0 L413.3 29.3 L412.5 28.5 L411.8 27.8 L411.0 27.1 L410.3 26.4 L409.5 25.7 L408.8 25.0 L407.9 24.2 L407.1 23.5 L406.3 22.8 L405.5 22.1 L404.8 21.4 L404.0 20.7 L403.2 20.0 L402.4 19.2 L401.6 18.5 L400.8 17.8 L400.0 17.2 L399.3 16.5 L398.4 15.8 L397.5 15.0 L397.0 14.5" fill="none" stroke="#000" stroke-opacity="0.64" stroke-width="1.15"/>
<path d="M506.1 298.2 L507.0 297.5 L507.8 296.9 L508.7 296.2 L509.5 295.6 L510.3 295.0 L511.2 294.2 L512.0 293.6 L512.8 293.0 L513.7 292.2 L514.5 291.6 L515.3 291.0 L516.2 290.2 L517.0 289.6 L517.8 289.0 L518.7 288.2 L519.5 287.5 L520.3 286.9 L521.1 286.2 L522.0 285.5 L522.8 284.8 L523.5 284.2 L524.4 283.5 L525.3 282.8 L526.0 282.1 L526.8 281.4 L527.6 280.8 L528.5 280.0 L529.3 279.3 L530.0 278.6 L530.8 278.0 L531.7 277.2 L532.5 276.5 L533.3 275.8 L534.0 275.1 L534.8 274.5 L535.6 273.8 L536.5 273.0 L537.3 272.2 L538.0 271.6 L538.8 270.9 L539.5 270.2 L540.3 269.5 L541.1 268.8 L541.9 268.0 L542.7 267.2 L543.5 266.5 L544.3 265.8 L545.0 265.1 L545.8 264.4 L546.5 263.6 L547.3 262.9 L548.0 262.2 L548.8 261.5 L549.5 260.7 L550.3 260.0 L551.1 259.2 L551.8 258.5 L552.6 257.8 L553.3 257.0 L554.1 256.2 L554.8 255.5 L555.6 254.8 L556.3 254.0 L557.0 253.2 L557.8 252.4 L558.5 251.6 L559.3 250.9 L560.0 250.1 L560.8 249.3 L561.5 248.5 L562.2 247.8 L562.9 247.0 L563.6 246.2 L564.3 245.5 L565.0 244.6 L565.8 243.8 L566.5 243.0 L567.2 242.2 L567.8 241.5 L568.5 240.6 L569.3 239.8 L570.0 239.0 L570.6 238.2 L571.3 237.4 L572.0 236.5 L572.7 235.8 L573.3 235.0 L574.0 234.1 L574.7 233.2 L575.3 232.5 L576.0 231.6 L576.7 230.8 L577.3 230.0 L578.0 229.0 L578.6 228.2 L579.3 227.4 L580.0 226.5 L580.5 225.7 L581.2 224.8 L581.8 224.0 L582.5 223.0 L583.0 222.2 L583.7 221.2 L584.3 220.5 L585.0 219.5 L585.5 218.6 L586.1 217.8 L586.8 216.8 L587.3 216.0 L588.0 215.0 L588.5 214.1 L589.1 213.2 L589.7 212.2 L590.3 211.3 L590.8 210.4 L591.4 209.5 L592.0 208.5 L592.5 207.5 L593.0 206.6 L593.5 205.7 L594.1 204.8 L594.6 203.8 L595.2 202.8 L595.7 201.8 L596.2 200.8 L596.7 199.8 L597.2 198.8 L597.7 197.8 L598.2 196.8 L598.7 195.8 L599.1 194.8 L599.6 193.8 L600.0 192.7 L600.5 191.6 L601.0 190.5 L601.4 189.5 L601.8 188.5 L602.3 187.2 L602.7 186.2 L603.1 185.2 L603.5 184.0 L603.9 183.0 L604.3 181.8 L604.6 180.8 L605.0 179.5 L605.3 178.5 L605.7 177.2 L606.0 176.0 L606.3 175.0 L606.6 173.8 L606.9 172.5 L607.2 171.2 L607.5 170.0 L607.8 168.8 L608.0 167.5 L608.3 166.2 L608.5 165.0 L608.7 163.8 L608.9 162.5 L609.0 161.0 L609.2 159.8 L609.3 158.5 L609.5 157.0 L609.6 155.8 L609.7 154.2 L609.8 152.8 L609.8 151.4 L609.8 150.0 L609.8 148.5 L609.8 147.0 L609.8 145.7 L609.7 144.2 L609.7 142.8 L609.6 141.2 L609.5 140.0 L609.3 138.5 L609.2 137.2 L609.0 136.0 L608.8 134.5 L608.6 133.2 L608.4 132.0 L608.2 130.8 L608.0 129.5 L607.7 128.2 L607.4 127.0 L607.2 125.8 L606.9 124.5 L606.5 123.3 L606.3 122.2 L605.9 121.0 L605.6 119.8 L605.3 118.8 L604.9 117.5 L604.5 116.5 L604.1 115.2 L603.8 114.2 L603.3 113.0 L603.0 112.0 L602.5 110.9 L602.1 109.8 L601.7 108.8 L601.3 107.8 L600.8 106.7 L600.3 105.5 L599.8 104.5 L599.4 103.5 L598.9 102.5 L598.4 101.5 L597.9 100.5 L597.4 99.5 L596.9 98.5 L596.4 97.5 L595.9 96.5 L595.3 95.5 L594.8 94.5 L594.3 93.6 L593.8 92.7 L593.2 91.8 L592.6 90.8 L592.0 89.8 L591.5 88.9 L591.0 88.0 L590.3 87.0 L589.8 86.1 L589.2 85.2 L588.6 84.2 L588.0 83.5 L587.4 82.5 L586.8 81.6 L586.2 80.8 L585.5 79.8 L585.0 79.0 L584.3 78.1 L583.7 77.2 L583.0 76.3 L582.4 75.5 L581.8 74.7 L581.1 73.8 L580.5 73.0 L579.8 72.0 L579.2 71.2 L578.5 70.5 L577.8 69.5 L577.2 68.8 L576.5 68.0 L575.8 67.1 L575.1 66.2 L574.5 65.5 L573.8 64.7 L573.0 63.8 L572.4 63.0 L571.7 62.2 L571.0 61.5 L570.3 60.7 L569.5 59.8 L568.8 59.0 L568.1 58.2 L567.5 57.5 L566.8 56.8 L566.0 56.0 L565.3 55.2 L564.5 54.4 L563.8 53.6 L563.0 52.8 L562.3 52.0 L561.5 51.3 L560.8 50.5 L560.1 49.8 L559.3 49.0 L558.6 48.2 L557.8 47.5 L557.0 46.8 L556.3 46.0 L555.5 45.3 L554.8 44.6 L554.0 43.8 L553.3 43.1 L552.5 42.4 L551.8 41.7 L551.0 41.0 L550.2 40.2 L549.4 39.5 L548.6 38.8 L547.8 38.0 L547.0 37.3 L546.3 36.6 L545.5 36.0 L544.7 35.2 L543.9 34.5 L543.1 33.8 L542.3 33.1 L541.5 32.4 L540.8 31.8 L539.9 31.0 L539.0 30.3 L538.3 29.6 L537.5 29.0 L536.7 28.2 L535.8 27.5 L535.0 26.9 L534.3 26.2 L533.4 25.5 L532.5 24.8 L531.8 24.2 L531.0 23.5 L530.1 22.8 L529.3 22.1 L528.5 21.5 L527.6 20.8 L526.8 20.1 L526.0 19.5 L525.1 18.8 L524.3 18.1 L523.5 17.5 L522.5 16.8 L521.8 16.2 L520.9 15.5 L520.0 14.8 L519.6 14.5" fill="none" stroke="#000" stroke-opacity="0.64" stroke-width="1.15"/>
<path d="M679.8 26.0 L678.8 25.3 L678.0 24.7 L677.0 24.0 L676.3 23.5 L675.3 22.8 L674.5 22.2 L673.5 21.6 L672.7 21.0 L671.8 20.4 L670.8 19.8 L670.0 19.2 L669.0 18.5 L668.3 18.0 L667.3 17.3 L666.4 16.8 L665.5 16.2 L664.5 15.5 L663.8 15.0 L663.0 14.5" fill="none" stroke="#000" stroke-opacity="0.64" stroke-width="1.15"/>
<path d="M636.0 298.2 L636.8 297.7 L637.8 297.1 L638.7 296.5 L639.5 295.9 L640.5 295.3 L641.3 294.8 L642.3 294.1 L643.2 293.5 L644.0 292.9 L645.0 292.3 L645.8 291.7 L646.8 291.1 L647.6 290.5 L648.5 289.9 L649.5 289.2 L650.3 288.7 L651.3 288.0 L652.0 287.5 L653.0 286.8 L653.9 286.2 L654.8 285.6 L655.7 285.0 L656.5 284.4 L657.5 283.8 L658.3 283.2 L659.2 282.5 L660.0 281.9 L661.0 281.2 L661.8 280.7 L662.8 280.0 L663.5 279.4 L664.5 278.8 L665.3 278.2 L666.2 277.5 L667.0 276.9 L668.0 276.2 L668.8 275.6 L669.7 275.0 L670.5 274.4 L671.4 273.8 L672.3 273.1 L673.1 272.5 L674.0 271.8 L674.8 271.2 L675.8 270.5 L676.5 269.9 L677.4 269.2 L678.3 268.6 L679.1 268.0 L679.8 267.4" fill="none" stroke="#000" stroke-opacity="0.64" stroke-width="1.15"/>
<path d="M48.6 14.6H332.55V298.5H48.6Z" fill="none" stroke="#6a6a6a" stroke-width="1.2"/>
<path d="M42.0 298.5H48.5" stroke="#777" stroke-width="1"/>
<path d="M42.0 241.5H48.5" stroke="#777" stroke-width="1"/>
<path d="M42.0 184.5H48.5" stroke="#777" stroke-width="1"/>
<path d="M42.0 128.5H48.5" stroke="#777" stroke-width="1"/>
<path d="M42.0 71.5H48.5" stroke="#777" stroke-width="1"/>
<path d="M42.0 14.5H48.5" stroke="#777" stroke-width="1"/>
<path d="M48.5 298.5V305.5" stroke="#777" stroke-width="1"/>
<path d="M119.5 298.5V305.5" stroke="#777" stroke-width="1"/>
<path d="M190.5 298.5V305.5" stroke="#777" stroke-width="1"/>
<path d="M261.5 298.5V305.5" stroke="#777" stroke-width="1"/>
<path d="M332.5 298.5V305.5" stroke="#777" stroke-width="1"/>
<path d="M396.6 14.6H679.55V298.5H396.6Z" fill="none" stroke="#6a6a6a" stroke-width="1.2"/>
<path d="M389.0 298.5H396.5" stroke="#777" stroke-width="1"/>
<path d="M389.0 241.5H396.5" stroke="#777" stroke-width="1"/>
<path d="M389.0 184.5H396.5" stroke="#777" stroke-width="1"/>
<path d="M389.0 128.5H396.5" stroke="#777" stroke-width="1"/>
<path d="M389.0 71.5H396.5" stroke="#777" stroke-width="1"/>
<path d="M389.0 14.5H396.5" stroke="#777" stroke-width="1"/>
<path d="M396.5 298.5V305.5" stroke="#777" stroke-width="1"/>
<path d="M467.5 298.5V305.5" stroke="#777" stroke-width="1"/>
<path d="M538.5 298.5V305.5" stroke="#777" stroke-width="1"/>
<path d="M609.5 298.5V305.5" stroke="#777" stroke-width="1"/>
<path d="M680.5 298.5V305.5" stroke="#777" stroke-width="1"/>
<rect x="136.1" y="150.1" width="8.6" height="6.2" fill="#fff" stroke="#333" stroke-width="0.8"/>
<text x="138.2" y="154.65" font-family="Liberation Sans" font-size="5.4" textLength="4.6" lengthAdjust="spacingAndGlyphs" fill="#1a1a1a" stroke="#1a1a1a" stroke-width="0.12">24</text>
<rect x="234.0" y="153.7" width="8.6" height="6.2" fill="#fff" stroke="#333" stroke-width="0.8"/>
<text x="236.1" y="158.25" font-family="Liberation Sans" font-size="5.4" textLength="4.6" lengthAdjust="spacingAndGlyphs" fill="#1a1a1a" stroke="#1a1a1a" stroke-width="0.12">26</text>
<rect x="203.1" y="71.7" width="8.6" height="6.2" fill="#fff" stroke="#333" stroke-width="0.8"/>
<text x="205.2" y="76.25" font-family="Liberation Sans" font-size="5.4" textLength="4.6" lengthAdjust="spacingAndGlyphs" fill="#1a1a1a" stroke="#1a1a1a" stroke-width="0.12">28</text>
<rect x="228.4" y="50.8" width="8.6" height="6.2" fill="#fff" stroke="#333" stroke-width="0.8"/>
<text x="230.5" y="55.35" font-family="Liberation Sans" font-size="5.4" textLength="4.6" lengthAdjust="spacingAndGlyphs" fill="#1a1a1a" stroke="#1a1a1a" stroke-width="0.12">30</text>
<rect x="256.8" y="35.1" width="8.6" height="6.2" fill="#fff" stroke="#333" stroke-width="0.8"/>
<text x="258.9" y="39.65" font-family="Liberation Sans" font-size="5.4" textLength="4.6" lengthAdjust="spacingAndGlyphs" fill="#1a1a1a" stroke="#1a1a1a" stroke-width="0.12">32</text>
<rect x="286.1" y="22.6" width="8.6" height="6.2" fill="#fff" stroke="#333" stroke-width="0.8"/>
<text x="288.2" y="27.15" font-family="Liberation Sans" font-size="5.4" textLength="4.6" lengthAdjust="spacingAndGlyphs" fill="#1a1a1a" stroke="#1a1a1a" stroke-width="0.12">34</text>
<rect x="210.9" y="270.8" width="8.6" height="6.2" fill="#fff" stroke="#333" stroke-width="0.8"/>
<text x="213.0" y="275.35" font-family="Liberation Sans" font-size="5.4" textLength="4.6" lengthAdjust="spacingAndGlyphs" fill="#1a1a1a" stroke="#1a1a1a" stroke-width="0.12">28</text>
<rect x="314.2" y="289.8" width="8.6" height="6.2" fill="#fff" stroke="#333" stroke-width="0.8"/>
<text x="316.3" y="294.35" font-family="Liberation Sans" font-size="5.4" textLength="4.6" lengthAdjust="spacingAndGlyphs" fill="#1a1a1a" stroke="#1a1a1a" stroke-width="0.12">30</text>
<rect x="475.2" y="146.7" width="8.6" height="6.2" fill="#fff" stroke="#333" stroke-width="0.8"/>
<text x="477.3" y="151.25" font-family="Liberation Sans" font-size="5.4" textLength="4.6" lengthAdjust="spacingAndGlyphs" fill="#1a1a1a" stroke="#1a1a1a" stroke-width="0.12">20</text>
<rect x="604.8" y="155.2" width="8.6" height="6.2" fill="#fff" stroke="#333" stroke-width="0.8"/>
<text x="606.9" y="159.75" font-family="Liberation Sans" font-size="5.4" textLength="4.6" lengthAdjust="spacingAndGlyphs" fill="#1a1a1a" stroke="#1a1a1a" stroke-width="0.12">25</text>
<rect x="667.9" y="15.4" width="8.6" height="6.2" fill="#fff" stroke="#333" stroke-width="0.8"/>
<text x="670.0" y="19.95" font-family="Liberation Sans" font-size="5.4" textLength="4.6" lengthAdjust="spacingAndGlyphs" fill="#1a1a1a" stroke="#1a1a1a" stroke-width="0.12">30</text>
<rect x="654.5" y="276.8" width="8.6" height="6.2" fill="#fff" stroke="#333" stroke-width="0.8"/>
<text x="656.6" y="281.35" font-family="Liberation Sans" font-size="5.4" textLength="4.6" lengthAdjust="spacingAndGlyphs" fill="#1a1a1a" stroke="#1a1a1a" stroke-width="0.12">30</text>
<circle cx="190.5" cy="14.5" r="2.6" fill="#c00000" stroke="#4a0000" stroke-width="0.7"/>
<circle cx="48.5" cy="156.4" r="2.6" fill="#c00000" stroke="#4a0000" stroke-width="0.7"/>
<circle cx="190.5" cy="156.4" r="2.6" fill="#c00000" stroke="#4a0000" stroke-width="0.7"/>
<circle cx="332.5" cy="156.4" r="2.6" fill="#c00000" stroke="#4a0000" stroke-width="0.7"/>
<circle cx="190.5" cy="298.3" r="2.6" fill="#c00000" stroke="#4a0000" stroke-width="0.7"/>
<circle cx="396.3" cy="14.6" r="2.6" fill="#c00000" stroke="#4a0000" stroke-width="0.7"/>
<circle cx="679.9" cy="14.6" r="2.6" fill="#c00000" stroke="#4a0000" stroke-width="0.7"/>
<circle cx="396.3" cy="298.2" r="2.6" fill="#c00000" stroke="#4a0000" stroke-width="0.7"/>
<circle cx="679.9" cy="298.2" r="2.6" fill="#c00000" stroke="#4a0000" stroke-width="0.7"/>
<circle cx="538.1" cy="156.5" r="2.6" fill="#c00000" stroke="#4a0000" stroke-width="0.7"/>
<text x="183.8" y="158.8" font-family="Liberation Sans" font-size="4.5" text-anchor="middle" fill="#333">7</text>
</svg>
<div class="t" style="font-size:9.6px;right:645.0px;top:294.8px">50</div>
<div class="t" style="font-size:9.6px;right:645.0px;top:238.0px">60</div>
<div class="t" style="font-size:9.6px;right:645.0px;top:181.3px">70</div>
<div class="t" style="font-size:9.6px;right:645.0px;top:124.5px">80</div>
<div class="t" style="font-size:9.6px;right:645.0px;top:67.8px">90</div>
<div class="t" style="font-size:9.6px;right:645.0px;top:11.0px">100</div>
<div class="t" style="font-size:9.6px;left:28.5px;width:40px;text-align:center;top:309.9px">20</div>
<div class="t" style="font-size:9.6px;left:99.5px;width:40px;text-align:center;top:309.9px">30</div>
<div class="t" style="font-size:9.6px;left:170.5px;width:40px;text-align:center;top:309.9px">40</div>
<div class="t" style="font-size:9.6px;left:241.5px;width:40px;text-align:center;top:309.9px">50</div>
<div class="t" style="font-size:9.6px;left:312.5px;width:40px;text-align:center;top:309.9px">60</div>
<div class="t" style="font-size:14px;left:90.5px;width:200px;text-align:center;top:329.15px;transform:scaleX(0.93)">B: AOME Blend (%)</div>
<div class="t" style="font-size:10.2px;left:140.5px;width:100px;text-align:center;top:2.1px;transform:scaleX(1.08)">BTE (%)</div>
<div class="t" style="font-size:14px;left:-95.5px;top:148.4px;width:200px;text-align:center;transform:rotate(-90deg) scaleX(0.94)">C: CuO (ppm)</div>
<div class="t" style="font-size:9.6px;right:298.5px;top:294.8px">50</div>
<div class="t" style="font-size:9.6px;right:298.5px;top:238.0px">60</div>
<div class="t" style="font-size:9.6px;right:298.5px;top:181.3px">70</div>
<div class="t" style="font-size:9.6px;right:298.5px;top:124.5px">80</div>
<div class="t" style="font-size:9.6px;right:298.5px;top:67.8px">90</div>
<div class="t" style="font-size:9.6px;right:298.5px;top:11.0px">100</div>
<div class="t" style="font-size:9.6px;left:376.3px;width:40px;text-align:center;top:309.9px">20</div>
<div class="t" style="font-size:9.6px;left:447.2px;width:40px;text-align:center;top:309.9px">30</div>
<div class="t" style="font-size:9.6px;left:518.1px;width:40px;text-align:center;top:309.9px">40</div>
<div class="t" style="font-size:9.6px;left:589.1px;width:40px;text-align:center;top:309.9px">50</div>
<div class="t" style="font-size:9.6px;left:660.0px;width:40px;text-align:center;top:309.9px">60</div>
<div class="t" style="font-size:14px;left:438.1px;width:200px;text-align:center;top:329.15px;transform:scaleX(0.912)">B: AOME (%)</div>
<div class="t" style="font-size:10.2px;left:488.1px;width:100px;text-align:center;top:2.1px;transform:scaleX(1.08)">BTE (%)</div>
<div class="t" style="font-size:14px;left:252.5px;top:148.4px;width:200px;text-align:center;transform:rotate(-90deg) scaleX(0.94)">C: CuO (ppm)</div>
<div class="s" style="font-size:20.8px;left:83.4px;top:361.9px">(a)</div>
<div class="s" style="font-size:20.8px;left:605.8px;top:361.9px">(b)</div>
</body></html>
